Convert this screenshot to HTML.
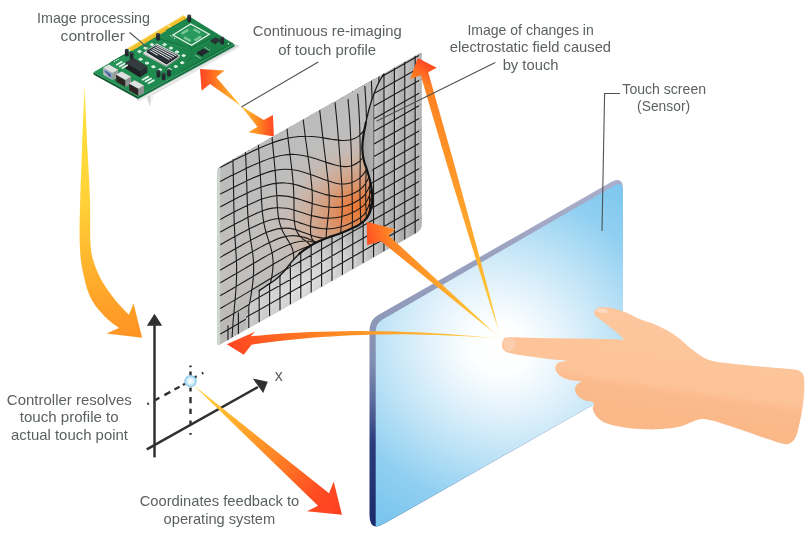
<!DOCTYPE html>
<html><head><meta charset="utf-8"><title>Touch screen diagram</title>
<style>html,body{margin:0;padding:0;background:#fff;overflow:hidden}svg{display:block}text{font-family:"Liberation Sans",sans-serif}</style>
</head><body>
<svg width="812" height="534" viewBox="0 0 812 534">
<defs>
<linearGradient id="gBig" gradientUnits="userSpaceOnUse" x1="85" y1="90" x2="120" y2="335"><stop offset="0" stop-color="#ffe23c"/><stop offset="0.45" stop-color="#ffd238"/><stop offset="0.75" stop-color="#ffae2c"/><stop offset="1" stop-color="#ff9424"/></linearGradient>
<linearGradient id="gPcb" gradientUnits="userSpaceOnUse" x1="110" y1="40" x2="215" y2="70"><stop offset="0" stop-color="#27955a"/><stop offset="0.5" stop-color="#1f8a4f"/><stop offset="1" stop-color="#1a7e47"/></linearGradient>
<linearGradient id="gD1" gradientUnits="userSpaceOnUse" x1="199" y1="0" x2="243" y2="0"><stop offset="0" stop-color="#ff4222"/><stop offset="0.2" stop-color="#ff5a22"/><stop offset="0.5" stop-color="#ff8c22"/><stop offset="0.8" stop-color="#ffb030"/><stop offset="1" stop-color="#ffd23c"/></linearGradient>
<linearGradient id="gD2" gradientUnits="userSpaceOnUse" x1="276" y1="0" x2="239" y2="0"><stop offset="0" stop-color="#ff4222"/><stop offset="0.2" stop-color="#ff5a22"/><stop offset="0.5" stop-color="#ff8c22"/><stop offset="0.8" stop-color="#ffb030"/><stop offset="1" stop-color="#ffd23c"/></linearGradient>
<clipPath id="cPan"><path d="M217,174.2Q217,168.2 222.2,165.2L419,53.6Q421.6,52.1 421.6,55.1L421.6,224.1Q421.6,230.1 416.4,233.1L220.5,344.2Q217,346.2 217,342.2Z"/></clipPath>
<linearGradient id="gPan" gradientUnits="userSpaceOnUse" x1="230" y1="150" x2="400" y2="260"><stop offset="0" stop-color="#bdbdbd"/><stop offset="0.5" stop-color="#b3b3b3"/><stop offset="1" stop-color="#a6a6a6"/></linearGradient>
<radialGradient id="gPanLt" gradientUnits="userSpaceOnUse" cx="305" cy="285" r="75" gradientTransform="translate(305 285) rotate(-29.5) scale(1.5 0.55) translate(-305 -285)"><stop offset="0" stop-color="#f2f2f2" stop-opacity="0.95"/><stop offset="0.5" stop-color="#e6e6e6" stop-opacity="0.6"/><stop offset="1" stop-color="#d0d0d0" stop-opacity="0"/></radialGradient>
<linearGradient id="gCol" x1="0" y1="0" x2="1" y2="0"><stop offset="0" stop-color="#dedede" stop-opacity="0.5"/><stop offset="1" stop-color="#a4a4a4" stop-opacity="0.15"/></linearGradient>
<pattern id="pCol" patternUnits="userSpaceOnUse" x="217.6" y="0" width="10.4" height="400"><rect width="10.4" height="400" fill="url(#gCol)"/></pattern>
<linearGradient id="gFold" gradientUnits="userSpaceOnUse" x1="358" y1="0" x2="374" y2="0"><stop offset="0" stop-color="#999999"/><stop offset="1" stop-color="#b2b2b2"/></linearGradient>
<clipPath id="cBlob"><path d="M384,73.4C383.1,75 380.1,79.7 378.5,83C376.9,86.3 375.8,89 374.3,93C372.8,97 371,102.1 369.6,107C368.2,111.9 366.9,117.7 365.9,122.4C364.9,127.2 364,131.1 363.4,135.5C362.8,139.9 362.2,144.4 362.3,148.7C362.4,152.9 363.2,157.6 364,161C364.8,164.4 365.9,166.5 366.8,169.4C367.7,172.3 368.8,175.3 369.6,178.7C370.4,182.1 371.3,186.2 371.8,190C372.3,193.8 372.6,197.8 372.4,201.2C372.2,204.6 371.4,207.8 370.5,210.6C369.6,213.4 368.7,215.7 366.8,218C364.9,220.3 362.1,222.7 359.3,224.6C356.5,226.5 353.3,227.7 349.9,229.3C346.5,230.9 342.4,232.6 338.7,234C335,235.4 331.2,236.3 327.5,237.7C323.8,239.1 319.6,240.7 316.2,242.4C312.8,244.1 309.7,246.1 306.9,248C304.1,249.9 301.9,251.3 299.4,253.6C296.9,255.8 294.7,258.4 292,261.5C289.3,264.6 285.8,269.4 283,272.5C280.2,275.6 277.8,277.8 275,280C272.2,282.2 268.7,284.2 266,286C263.3,287.8 261,288.8 258.7,291C256.4,293.2 253.9,295.5 252,299.3C250.1,303.1 248.2,308.7 247,313.9C245.8,319.1 244.9,327.7 244.5,330.5L217,346.2L217,168.2Z"/></clipPath>
<linearGradient id="gBlob" gradientUnits="userSpaceOnUse" x1="225" y1="170" x2="330" y2="330"><stop offset="0" stop-color="#bcbcbc"/><stop offset="0.5" stop-color="#c2c0be"/><stop offset="1" stop-color="#aeaeae"/></linearGradient>
<radialGradient id="gOr" gradientUnits="userSpaceOnUse" cx="358" cy="208" r="105" gradientTransform="translate(358 208) rotate(-35) scale(1 0.72) translate(-358 -208)"><stop offset="0" stop-color="#ea7732"/><stop offset="0.16" stop-color="#e58148" stop-opacity="0.95"/><stop offset="0.42" stop-color="#d99a76" stop-opacity="0.75"/><stop offset="0.72" stop-color="#d0b2a0" stop-opacity="0.4"/><stop offset="1" stop-color="#c4bbb5" stop-opacity="0"/></radialGradient>
<clipPath id="cScr"><path d="M369.5,330.1Q369.5,320.1 378.2,315.1L610.8,182.3Q623,175.4 623,189.4L623,386.7Q623,387.7 622.1,388.2L384.3,523.6Q369.5,532 369.5,515Z"/></clipPath>
<linearGradient id="gEdge" gradientUnits="userSpaceOnUse" x1="0" y1="180" x2="0" y2="530"><stop offset="0" stop-color="#aaaeca"/><stop offset="0.4" stop-color="#8e98b8"/><stop offset="0.52" stop-color="#828eb1"/><stop offset="0.63" stop-color="#5d6c9c"/><stop offset="0.75" stop-color="#2b3b7c"/><stop offset="1" stop-color="#1b2a6b"/></linearGradient>
<radialGradient id="gFace" gradientUnits="userSpaceOnUse" cx="499" cy="348" r="235" gradientTransform="translate(499 348) rotate(25) scale(1.08 0.94) translate(-499 -348)"><stop offset="0" stop-color="#ffffff"/><stop offset="0.12" stop-color="#fcfeff"/><stop offset="0.3" stop-color="#e0f1fb"/><stop offset="0.5" stop-color="#bbe2f6"/><stop offset="0.72" stop-color="#90cff1"/><stop offset="0.9" stop-color="#7ec7ee"/><stop offset="1" stop-color="#78c4ec"/></radialGradient>
<linearGradient id="gR1" gradientUnits="userSpaceOnUse" x1="437" y1="60" x2="331.6" y2="243.3"><stop offset="0" stop-color="#ff4222"/><stop offset="0.04" stop-color="#ff4c22"/><stop offset="0.13" stop-color="#ff8222"/><stop offset="0.45" stop-color="#ff9828"/><stop offset="0.7" stop-color="#ffae2e"/><stop offset="0.87" stop-color="#ffc63a"/><stop offset="1" stop-color="#ffe070"/></linearGradient>
<linearGradient id="gR2" gradientUnits="userSpaceOnUse" x1="362" y1="240" x2="462.5" y2="209.6"><stop offset="0" stop-color="#ff4222"/><stop offset="0.07" stop-color="#ff5522"/><stop offset="0.26" stop-color="#ff8424"/><stop offset="0.55" stop-color="#ffa02a"/><stop offset="0.82" stop-color="#ffc238"/><stop offset="1" stop-color="#ffe070"/></linearGradient>
<linearGradient id="gR3" gradientUnits="userSpaceOnUse" x1="227" y1="344" x2="503" y2="339"><stop offset="0" stop-color="#ff4222"/><stop offset="0.12" stop-color="#ff5a22"/><stop offset="0.35" stop-color="#ff8422"/><stop offset="0.6" stop-color="#ffa42a"/><stop offset="0.82" stop-color="#ffc238"/><stop offset="1" stop-color="#ffe070"/></linearGradient>
<radialGradient id="gGlow" cx="503" cy="342" r="26" gradientUnits="userSpaceOnUse"><stop offset="0" stop-color="#fff" stop-opacity="1"/><stop offset="0.4" stop-color="#fff" stop-opacity="0.8"/><stop offset="1" stop-color="#fff" stop-opacity="0"/></radialGradient>
<linearGradient id="gSkin" gradientUnits="userSpaceOnUse" x1="700" y1="330" x2="682.5" y2="448.7"><stop offset="0" stop-color="#fdc69c"/><stop offset="0.49" stop-color="#fdc398"/><stop offset="0.57" stop-color="#fbba8b"/><stop offset="1" stop-color="#fab787"/></linearGradient>
<linearGradient id="gF" gradientUnits="userSpaceOnUse" x1="342" y1="515" x2="194" y2="385"><stop offset="0" stop-color="#ff3f22"/><stop offset="0.18" stop-color="#ff4d22"/><stop offset="0.45" stop-color="#ff8424"/><stop offset="0.75" stop-color="#ffb42e"/><stop offset="1" stop-color="#ffd23c"/></linearGradient>
<radialGradient id="gDot" cx="0.5" cy="0.5" r="0.5"><stop offset="0" stop-color="#fff"/><stop offset="0.45" stop-color="#e4f4fc"/><stop offset="0.8" stop-color="#a5d8f2"/><stop offset="1" stop-color="#8fcdee"/></radialGradient>
<filter id="fT" x="0" y="0" width="812" height="534" filterUnits="userSpaceOnUse"><feOffset dx="0" dy="0"/></filter>
</defs>
<rect width="812" height="534" fill="#fff"/>
<!-- big curved arrow -->
<path d="M84.6,87.6C84.2,98 82.7,131.3 82,150C81.3,168.7 80.6,184.7 80.2,200C79.8,215.3 79.3,230.3 79.7,242C80.1,253.7 80.6,260.6 82.5,270C84.4,279.4 87,290.4 91,298.4C95,306.4 101.7,313.1 106.4,318C111.1,322.9 116.9,326.2 119,327.9L106.4,333.5L142.1,337.7L133.6,303.4L128.9,314.7C126.8,312.4 120.7,306.7 116.2,301.2C111.8,295.7 106,288.1 102.2,281.5C98.5,274.9 95.7,268.4 93.7,261.8C91.7,255.2 91,252.5 90.4,242.2C89.8,231.9 90.5,215.4 90,200C89.5,184.6 88.4,168.7 87.5,150C86.6,131.3 85.1,98 84.6,87.6Z" fill="url(#gBig)"/>
<!-- controller board -->
<path d="M136.4,98.6 138.4,101.4 147,97 149.8,106.4 153.4,94.4 238.6,47.6 238.6,45.2 234.4,44.3Z" fill="#d2d5d3"/>
<path d="M149.9,106.4 153.4,94.4 150.6,95.6Z" fill="#f3f3f3"/>
<path d="M138.4,101.4 238.6,47.6 238.6,46 138.4,99.4Z" fill="#eceeed"/>
<path d="M93.5,72.2 137.9,96.6 137.9,99 93.5,74.6Z" fill="#0e5a31"/>
<path d="M137.9,96.6 234.4,44.3 234.4,46.5 137.9,99Z" fill="#127040"/>
<path d="M93.5,72.2 189.2,16.2 234.4,44.3 137.9,96.6Z" fill="url(#gPcb)"/>
<path d="M127.5,48.4 183.4,15.5 187.8,18.2 131.8,50.9Z" fill="#f3be2b"/>
<path d="M127.5,48.4 183.4,15.5 184.8,16.3 128.8,49.2Z" fill="#f8cf4a"/>
<path d="M166.5,25.2 167.9,24.4 172.5,27.2 171.1,28Z" fill="#fae9a8"/>
<path d="M139.2,41.3 140.3,40.6 144.9,43.3 143.8,43.9Z" fill="#f9dc7a"/>
<path d="M159.8,39.2 183.4,46.5" stroke="#13703d" stroke-width="1.3" fill="none" stroke-linejoin="round" stroke-linecap="round"/>
<path d="M160,40.2 183.6,47.5" stroke="#2fa566" stroke-width="0.55" fill="none" stroke-linejoin="round" opacity="0.8"/>
<path d="M189.3,45.8 191.7,48.8 191.7,58.9 187.4,61.5" stroke="#13703d" stroke-width="1.3" fill="none" stroke-linejoin="round" stroke-linecap="round"/>
<path d="M189.5,46.8 191.9,49.8 191.9,59.9 187.6,62.5" stroke="#2fa566" stroke-width="0.55" fill="none" stroke-linejoin="round" opacity="0.8"/>
<path d="M191.7,48.8 210.9,38.6 223.4,44.9" stroke="#13703d" stroke-width="1.3" fill="none" stroke-linejoin="round" stroke-linecap="round"/>
<path d="M191.9,49.8 211.1,39.6 223.6,45.9" stroke="#2fa566" stroke-width="0.55" fill="none" stroke-linejoin="round" opacity="0.8"/>
<path d="M182.8,70.7 223.4,48.4 231.9,43.2" stroke="#13703d" stroke-width="1.3" fill="none" stroke-linejoin="round" stroke-linecap="round"/>
<path d="M183,71.7 223.6,49.4 232.1,44.2" stroke="#2fa566" stroke-width="0.55" fill="none" stroke-linejoin="round" opacity="0.8"/>
<path d="M166.5,30.4 187.6,18.6" stroke="#13703d" stroke-width="1.1" fill="none" stroke-linejoin="round" stroke-linecap="round"/>
<path d="M166.7,31.4 187.8,19.6" stroke="#2fa566" stroke-width="0.55" fill="none" stroke-linejoin="round" opacity="0.8"/>
<path d="M111,62.4 127,53.4" stroke="#13703d" stroke-width="1.0" fill="none" stroke-linejoin="round" stroke-linecap="round"/>
<path d="M111.2,63.4 127.2,54.4" stroke="#2fa566" stroke-width="0.55" fill="none" stroke-linejoin="round" opacity="0.8"/>
<path d="M172.9,35 190.7,23.9 209.3,34.2 191.5,45.3Z" fill="#238f54" stroke="#e9f6ee" stroke-width="1.25"/>
<path d="M177.6,35 190.8,26.8 204.6,34.3 191.4,42.5Z" fill="#2a9a5c"/>
<path d="M181.6,33.8L188.2,29.8M193.6,29.2L200.2,32.8M184.0,37.4L190.6,41.0M194.6,40.4L201.0,36.4" stroke="#7cc79c" stroke-width="2.4" fill="none"/>
<circle cx="170.4" cy="35.6" r="0.6" fill="#e6f4ea"/><circle cx="172" cy="36.8" r="0.6" fill="#e6f4ea"/><circle cx="174.6" cy="38.4" r="0.6" fill="#e6f4ea"/>
<path d="M142.8,54.3 156.8,45 180.2,57 166.4,67Z" fill="#a7aba9"/>
<path d="M142.8,52.9 156.8,43.6 180.2,55.6 166.4,65.6Z" fill="#dcdedd"/>
<path d="M146.2,52.1 156.7,45.7 178.4,56.6 166.5,64.5Z" fill="#14171a"/>
<path d="M146.2,51.1 156.7,44.7 178.4,55.6 166.5,63.5Z" fill="#2a3038"/>
<path d="M156.4,45.6L176.5,55.9M154.8,46.8L174.2,57.1M153.1,48.1L171.9,58.4M151.5,49.3L169.6,59.6M149.8,50.6L157.7,55.2" stroke="#f1f3f2" stroke-width="1.0" fill="none"/>
<path d="M137.5,51.5 139.5,50.3 141.5,51.5 139.5,52.7Z" fill="#e3f5ea" stroke="#e3f5ea" stroke-width="0.9" stroke-linejoin="round"/>
<path d="M143.5,48.1 145.5,46.9 147.5,48.1 145.5,49.3Z" fill="#e3f5ea" stroke="#e3f5ea" stroke-width="0.9" stroke-linejoin="round"/>
<path d="M149.9,44.6 151.9,43.4 153.9,44.6 151.9,45.8Z" fill="#e3f5ea" stroke="#e3f5ea" stroke-width="0.9" stroke-linejoin="round"/>
<path d="M162.6,44.6 164.6,43.4 166.6,44.6 164.6,45.8Z" fill="#e3f5ea" stroke="#e3f5ea" stroke-width="0.9" stroke-linejoin="round"/>
<path d="M169,48.1 171,46.9 173,48.1 171,49.3Z" fill="#e3f5ea" stroke="#e3f5ea" stroke-width="0.9" stroke-linejoin="round"/>
<path d="M175,51.9 177,50.7 179,51.9 177,53.1Z" fill="#e3f5ea" stroke="#e3f5ea" stroke-width="0.9" stroke-linejoin="round"/>
<path d="M181.7,55.6 183.7,54.4 185.7,55.6 183.7,56.8Z" fill="#e3f5ea" stroke="#e3f5ea" stroke-width="0.9" stroke-linejoin="round"/>
<path d="M138.6,59.3 140.6,58.1 142.6,59.3 140.6,60.5Z" fill="#e3f5ea" stroke="#e3f5ea" stroke-width="0.9" stroke-linejoin="round"/>
<path d="M145,63.1 147,61.9 149,63.1 147,64.3Z" fill="#e3f5ea" stroke="#e3f5ea" stroke-width="0.9" stroke-linejoin="round"/>
<path d="M151.4,66.8 153.4,65.6 155.4,66.8 153.4,68Z" fill="#e3f5ea" stroke="#e3f5ea" stroke-width="0.9" stroke-linejoin="round"/>
<path d="M158.1,69.8 160.1,68.6 162.1,69.8 160.1,71Z" fill="#e3f5ea" stroke="#e3f5ea" stroke-width="0.9" stroke-linejoin="round"/>
<path d="M180.2,62.7 182.2,61.5 184.2,62.7 182.2,63.9Z" fill="#e3f5ea" stroke="#e3f5ea" stroke-width="0.9" stroke-linejoin="round"/>
<path d="M173.8,66.5 175.8,65.3 177.8,66.5 175.8,67.7Z" fill="#e3f5ea" stroke="#e3f5ea" stroke-width="0.9" stroke-linejoin="round"/>
<path d="M167.5,69.5 169.5,68.3 171.5,69.5 169.5,70.7Z" fill="#e3f5ea" stroke="#e3f5ea" stroke-width="0.9" stroke-linejoin="round"/>
<path d="M197,52.2 203.4,48.4 209.2,51.6 202.8,55.6Z" fill="#23292d"/>
<path d="M197,52.2 202.8,55.6 202.8,56.8 197,53.4Z" fill="#14181b"/>
<path d="M195.4,55.2l1.2,0.7M197.4,56.4l1.2,0.7M199.4,57.6l1.2,0.7M204.6,47.2l1.2,0.7M206.6,48.4l1.2,0.7M208.6,49.6l1.2,0.7" stroke="#dff0e6" stroke-width="0.9"/>
<path d="M210.6,40.2 215.6,37.2 221,40.2 216,43.4Z" fill="#2b3236"/>
<path d="M210.6,40.2 216,43.4 216,44.4 210.6,41.2Z" fill="#181c1f"/>
<path d="M125.4,62.4 133,57.8 147.4,66.2 140,71Z" fill="#343a3f"/>
<path d="M125.4,62.4 140,71 140,77.4 125.4,68.6Z" fill="#1d2125"/>
<path d="M140,71 147.4,66.2 147.4,72.4 140,77.4Z" fill="#262b2f"/>
<path d="M119.6,66.4L124.6,63.4M122.4,68L127.2,65.2M116.8,64.8L121.8,61.8" stroke="#e9f5ee" stroke-width="1.7" stroke-linecap="round"/>
<path d="M142.6,79.8L148.2,76.6M145.6,81.6L151,78.4M148.6,83.2L153.8,80.2" stroke="#e9f5ee" stroke-width="1.8" stroke-linecap="round"/>
<circle cx="114.6" cy="61.4" r="0.6" fill="#e9f5ee"/><circle cx="116.4" cy="60.4" r="0.6" fill="#e9f5ee"/><circle cx="118.2" cy="59.4" r="0.6" fill="#e9f5ee"/>
<path d="M187.3,15.6V21.2A1.9,1.045 0 0 0 191.1,21.2V15.6Z" fill="#23292e"/><ellipse cx="189.2" cy="15.6" rx="1.9" ry="1.045" fill="#3a4349"/>
<path d="M156.1,34V39.6A1.9,1.045 0 0 0 159.9,39.6V34Z" fill="#23292e"/><ellipse cx="158" cy="34" rx="1.9" ry="1.045" fill="#3a4349"/>
<path d="M124.9,49.8V55.4A1.9,1.045 0 0 0 128.7,55.4V49.8Z" fill="#23292e"/><ellipse cx="126.8" cy="49.8" rx="1.9" ry="1.045" fill="#3a4349"/>
<path d="M129.7,53V58.6A1.9,1.045 0 0 0 133.5,58.6V53Z" fill="#23292e"/><ellipse cx="131.6" cy="53" rx="1.9" ry="1.045" fill="#3a4349"/>
<path d="M220.3,37.8V43.4A1.9,1.045 0 0 0 224.1,43.4V37.8Z" fill="#23292e"/><ellipse cx="222.2" cy="37.8" rx="1.9" ry="1.045" fill="#3a4349"/>
<path d="M156.5,70.8V76.4A1.9,1.045 0 0 0 160.3,76.4V70.8Z" fill="#23292e"/><ellipse cx="158.4" cy="70.8" rx="1.9" ry="1.045" fill="#3a4349"/>
<path d="M161.7,73.6V79.2A1.9,1.045 0 0 0 165.5,79.2V73.6Z" fill="#23292e"/><ellipse cx="163.6" cy="73.6" rx="1.9" ry="1.045" fill="#3a4349"/>
<path d="M167.1,70V75.6A1.9,1.045 0 0 0 170.9,75.6V70Z" fill="#23292e"/><ellipse cx="169" cy="70" rx="1.9" ry="1.045" fill="#3a4349"/>
<circle cx="228.4" cy="43.8" r="0.8" fill="#e9f5ee"/>
<path d="M103.2,67.6 112.6,72.9 112.6,80.1 103.2,74.8Z" fill="#b9bcc0"/>
<path d="M112.6,72.9 118.2,69.7 118.2,76.9 112.6,80.1Z" fill="#9b9ea0"/>
<path d="M103.2,67.6 108.8,64.4 118.2,69.7 112.6,72.9Z" fill="#dedfde"/>
<path d="M104.4,69.5 111.6,73.6 111.6,78.8 104.4,72.2Z" fill="#6f8cc4"/>
<path d="M105.6,71 110.4,75.1 110.4,77.7 105.6,71.4Z" fill="#3d4c6e"/>
<path d="M116,74.6 125.4,79.9 125.4,87.1 116,81.8Z" fill="#3a2f2d"/>
<path d="M125.4,79.9 131,76.7 131,83.9 125.4,87.1Z" fill="#8f9291"/>
<path d="M116,74.6 121.6,71.4 131,76.7 125.4,79.9Z" fill="#dedfde"/>
<path d="M117,76.4 124.8,80.8 124.8,86.5 117,80.2Z" fill="#2c2322"/>
<path d="M129,83.4 138.4,88.7 138.4,95.9 129,90.6Z" fill="#3a2f2d"/>
<path d="M138.4,88.7 144,85.5 144,92.7 138.4,95.9Z" fill="#8f9291"/>
<path d="M129,83.4 134.6,80.2 144,85.5 138.4,88.7Z" fill="#dedfde"/>
<path d="M130,85.2 137.8,89.6 137.8,95.3 130,89Z" fill="#2c2322"/>
<!-- double arrow -->
<path d="M241,106L216.2,77.2L224.6,70.5L200,69L201.6,90.8L210,84.1Z" fill="url(#gD1)"/>
<path d="M241,106L263.7,120.1L272.9,114.9L273.9,136.5L248.3,132.2L257.5,127Z" fill="url(#gD2)"/>
<!-- sensor image panel -->
<path d="M217,174.2Q217,168.2 222.2,165.2L419,53.6Q421.6,52.1 421.6,55.1L421.6,224.1Q421.6,230.1 416.4,233.1L220.5,344.2Q217,346.2 217,342.2Z" fill="url(#gPan)"/>
<g clip-path="url(#cPan)">
<rect x="210" y="40" width="220" height="320" fill="url(#gPanLt)"/>
<rect x="210" y="40" width="220" height="320" fill="url(#pCol)"/>
<path d="M415.2,55.7V233.7M404.8,61.6V239.6M394.4,67.5V245.5M384,73.4V251.4M373.6,79.3V257.3M363.2,85.2V263.2M352.8,91.1V269.1M342.4,97V275M332,102.9V280.9M321.6,108.8V286.8M311.2,114.7V292.7M300.8,120.6V298.6M290.4,126.5V304.5M280,132.4V310.4M269.6,138.3V316.3M259.2,144.3V322.3M248.8,150.2V328.2M238.4,156.1V334.1M228,162V340M217,170L421.6,53.9M217,182.6L421.6,66.5M217,195.2L421.6,79.1M217,207.8L421.6,91.7M217,220.4L421.6,104.3M217,233L421.6,116.9M217,245.6L421.6,129.5M217,258.2L421.6,142.1M217,270.8L421.6,154.7M217,283.4L421.6,167.3M217,296L421.6,179.9M217,308.6L421.6,192.5M217,321.2L421.6,205.1M217,333.8L421.6,217.7" stroke="#1c1c1c" stroke-width="1.15" fill="none"/>
<path d="M355,70H373.6V168L368,176H355Z" fill="url(#gFold)"/>
<g clip-path="url(#cBlob)">
<path d="M384,73.4C383.1,75 380.1,79.7 378.5,83C376.9,86.3 375.8,89 374.3,93C372.8,97 371,102.1 369.6,107C368.2,111.9 366.9,117.7 365.9,122.4C364.9,127.2 364,131.1 363.4,135.5C362.8,139.9 362.2,144.4 362.3,148.7C362.4,152.9 363.2,157.6 364,161C364.8,164.4 365.9,166.5 366.8,169.4C367.7,172.3 368.8,175.3 369.6,178.7C370.4,182.1 371.3,186.2 371.8,190C372.3,193.8 372.6,197.8 372.4,201.2C372.2,204.6 371.4,207.8 370.5,210.6C369.6,213.4 368.7,215.7 366.8,218C364.9,220.3 362.1,222.7 359.3,224.6C356.5,226.5 353.3,227.7 349.9,229.3C346.5,230.9 342.4,232.6 338.7,234C335,235.4 331.2,236.3 327.5,237.7C323.8,239.1 319.6,240.7 316.2,242.4C312.8,244.1 309.7,246.1 306.9,248C304.1,249.9 301.9,251.3 299.4,253.6C296.9,255.8 294.7,258.4 292,261.5C289.3,264.6 285.8,269.4 283,272.5C280.2,275.6 277.8,277.8 275,280C272.2,282.2 268.7,284.2 266,286C263.3,287.8 261,288.8 258.7,291C256.4,293.2 253.9,295.5 252,299.3C250.1,303.1 248.2,308.7 247,313.9C245.8,319.1 244.9,327.7 244.5,330.5L217,346.2L217,168.2Z" fill="url(#gBlob)"/>
<path d="M384,73.4C383.1,75 380.1,79.7 378.5,83C376.9,86.3 375.8,89 374.3,93C372.8,97 371,102.1 369.6,107C368.2,111.9 366.9,117.7 365.9,122.4C364.9,127.2 364,131.1 363.4,135.5C362.8,139.9 362.2,144.4 362.3,148.7C362.4,152.9 363.2,157.6 364,161C364.8,164.4 365.9,166.5 366.8,169.4C367.7,172.3 368.8,175.3 369.6,178.7C370.4,182.1 371.3,186.2 371.8,190C372.3,193.8 372.6,197.8 372.4,201.2C372.2,204.6 371.4,207.8 370.5,210.6C369.6,213.4 368.7,215.7 366.8,218C364.9,220.3 362.1,222.7 359.3,224.6C356.5,226.5 353.3,227.7 349.9,229.3C346.5,230.9 342.4,232.6 338.7,234C335,235.4 331.2,236.3 327.5,237.7C323.8,239.1 319.6,240.7 316.2,242.4C312.8,244.1 309.7,246.1 306.9,248C304.1,249.9 301.9,251.3 299.4,253.6C296.9,255.8 294.7,258.4 292,261.5C289.3,264.6 285.8,269.4 283,272.5C280.2,275.6 277.8,277.8 275,280C272.2,282.2 268.7,284.2 266,286C263.3,287.8 261,288.8 258.7,291C256.4,293.2 253.9,295.5 252,299.3C250.1,303.1 248.2,308.7 247,313.9C245.8,319.1 244.9,327.7 244.5,330.5L217,346.2L217,168.2Z" fill="url(#gOr)"/>
<path d="M232.4,140.6C232.4,141.8 232.5,145.5 232.6,147.9C232.6,150.3 232.7,152.8 232.8,155.2C232.8,157.6 232.9,160 233,162.4C233,164.8 233.1,167.2 233.2,169.6C233.2,172 233.3,174.4 233.3,176.8C233.4,179.2 233.4,181.6 233.5,184C233.5,186.3 233.6,188.7 233.6,191.1C233.7,193.4 233.7,195.8 233.7,198.2C233.8,200.5 233.8,202.9 233.8,205.2C233.9,207.6 233.9,209.9 234,212.2C234,214.6 234.1,216.9 234.1,219.2C234.2,221.5 234.3,223.9 234.4,226.2C234.5,228.5 234.6,230.7 234.7,233C234.8,235.3 235,237.6 235.1,239.9C235.3,242.2 235.4,244.4 235.6,246.7C235.7,249 235.9,251.3 236,253.6C236.2,255.9 236.3,258.2 236.4,260.5C236.5,262.9 236.6,265.2 236.6,267.6C236.6,270 236.6,272.4 236.6,274.8C236.5,277.2 236.5,279.7 236.3,282.2C236.2,284.7 236.1,287.2 235.9,289.7C235.7,292.3 235.5,294.8 235.3,297.4C235.1,299.9 234.8,302.5 234.6,305.1C234.4,307.7 234.1,310.2 233.9,312.8C233.6,315.4 233.4,318 233.2,320.5C233,323.1 232.8,325.6 232.7,328.1C232.5,330.7 232.3,333.2 232.2,335.7C232.1,338.2 232,340.7 231.9,343.2C231.8,345.7 231.7,348.1 231.6,350.6C231.6,353.1 231.5,356.7 231.5,358M244.7,134.2C244.8,135.4 244.9,139.1 245,141.6C245.1,144 245.2,146.4 245.3,148.9C245.4,151.3 245.5,153.7 245.7,156.1C245.8,158.5 245.9,161 246,163.4C246.1,165.7 246.2,168.1 246.3,170.5C246.4,172.9 246.5,175.3 246.6,177.6C246.6,180 246.7,182.3 246.8,184.7C246.9,187 246.9,189.3 247,191.7C247.1,194 247.1,196.3 247.2,198.6C247.3,200.9 247.3,203.2 247.4,205.5C247.5,207.8 247.6,210 247.7,212.3C247.8,214.6 248,216.8 248.1,219C248.3,221.2 248.5,223.4 248.7,225.6C249,227.8 249.2,230 249.5,232.1C249.8,234.3 250.1,236.4 250.4,238.6C250.7,240.7 251.1,242.8 251.4,244.9C251.8,247.1 252.1,249.2 252.4,251.4C252.7,253.6 253,255.7 253.2,258C253.4,260.2 253.5,262.5 253.6,264.8C253.6,267.2 253.6,269.6 253.6,272C253.5,274.5 253.3,277 253.1,279.5C252.8,282.1 252.5,284.7 252.2,287.4C251.8,290 251.4,292.7 251,295.4C250.5,298.1 250,300.9 249.6,303.6C249.1,306.3 248.6,309.1 248.2,311.8C247.7,314.5 247.3,317.2 246.9,319.9C246.5,322.6 246.1,325.2 245.8,327.8C245.5,330.5 245.2,333.1 244.9,335.7C244.7,338.3 244.5,340.8 244.3,343.4C244.1,345.9 243.9,349.6 243.9,350.9M257.4,127.9C257.4,129.1 257.6,132.9 257.8,135.3C257.9,137.8 258.1,140.3 258.2,142.7C258.4,145.2 258.6,147.6 258.7,150.1C258.9,152.5 259.1,154.9 259.2,157.3C259.4,159.8 259.5,162.2 259.7,164.5C259.8,166.9 260,169.3 260.1,171.7C260.3,174 260.4,176.4 260.5,178.7C260.7,181 260.8,183.4 260.9,185.7C261,188 261.1,190.3 261.2,192.5C261.3,194.8 261.4,197.1 261.5,199.4C261.6,201.6 261.8,203.8 261.9,206C262.1,208.3 262.2,210.4 262.4,212.6C262.7,214.8 262.9,216.9 263.2,219C263.5,221.1 263.9,223.1 264.3,225.1C264.7,227.1 265.2,229.1 265.7,231C266.2,233 266.8,234.8 267.4,236.7C268,238.6 268.6,240.5 269.2,242.4C269.8,244.2 270.4,246.1 270.9,248.1C271.4,250 271.9,252 272.3,254C272.6,256.1 272.9,258.2 273,260.5C273.1,262.7 273.1,265.1 272.9,267.5C272.8,270 272.5,272.6 272,275.3C271.6,278 271,280.8 270.4,283.6C269.8,286.4 269,289.4 268.3,292.3C267.5,295.2 266.7,298.2 265.9,301.2C265.1,304.1 264.2,307.1 263.5,310C262.7,313 261.9,315.9 261.3,318.8C260.6,321.6 260,324.5 259.4,327.2C258.9,330 258.4,332.8 258,335.5C257.6,338.1 257.1,342.1 256.9,343.4M270.8,121.7C270.9,123 271.2,126.8 271.4,129.3C271.6,131.8 271.8,134.3 272,136.8C272.2,139.4 272.4,141.9 272.7,144.4C272.9,146.9 273.1,149.4 273.4,151.9C273.6,154.4 273.9,156.9 274.1,159.4C274.3,161.9 274.6,164.4 274.8,166.8C275,169.3 275.2,171.8 275.4,174.2C275.6,176.7 275.8,179.1 275.9,181.5C276.1,183.9 276.3,186.3 276.4,188.7C276.5,191.1 276.6,193.5 276.8,195.8C276.9,198.1 277,200.4 277.1,202.6C277.2,204.9 277.4,207.1 277.6,209.3C277.7,211.4 277.9,213.5 278.2,215.6C278.5,217.6 278.9,219.5 279.3,221.4C279.7,223.3 280.2,225.1 280.9,226.8C281.5,228.5 282.2,230.2 282.9,231.7C283.7,233.3 284.6,234.8 285.5,236.3C286.3,237.7 287.3,239.1 288.2,240.6C289,242 289.9,243.4 290.7,245C291.4,246.5 292.2,248.1 292.7,249.8C293.2,251.6 293.5,253.4 293.7,255.5C293.8,257.6 293.8,259.8 293.5,262.2C293.3,264.7 292.8,267.3 292.1,270.1C291.5,272.9 290.6,275.9 289.7,278.9C288.7,282 287.6,285.2 286.4,288.5C285.3,291.7 284,295 282.8,298.2C281.6,301.5 280.4,304.8 279.3,308C278.1,311.2 277,314.3 276,317.4C275.1,320.5 274.1,323.5 273.3,326.5C272.5,329.5 271.6,333.7 271.2,335.2M285.7,115.7C285.8,117 286.2,120.9 286.4,123.6C286.7,126.3 287,129 287.3,131.7C287.6,134.4 287.9,137.2 288.2,139.9C288.5,142.7 288.9,145.6 289.2,148.4C289.6,151.2 289.9,154.1 290.3,157C290.6,159.8 291,162.7 291.4,165.6C291.7,168.4 292,171.3 292.3,174.1C292.6,176.8 292.9,179.6 293.1,182.3C293.3,185 293.5,187.6 293.6,190.2C293.8,192.8 293.8,195.3 293.9,197.8C294,200.2 294,202.6 294,204.9C294,207.2 294,209.5 294,211.7C294,213.9 294,216 294.1,218C294.2,220 294.4,221.9 294.7,223.7C294.9,225.4 295.3,227.1 295.7,228.6C296.2,230.1 296.8,231.5 297.5,232.8C298.2,234.1 299.1,235.2 300,236.2C300.9,237.2 302,238.1 303,239C304.1,239.8 305.2,240.6 306.3,241.4C307.3,242.3 308.4,243.1 309.3,244.1C310.2,245 311.1,246.1 311.7,247.4C312.3,248.7 312.8,250.1 312.9,251.9C313.1,253.6 313,255.6 312.7,257.9C312.4,260.2 311.8,262.8 311,265.7C310.2,268.5 309.1,271.6 307.9,274.9C306.7,278.1 305.2,281.6 303.8,285.1C302.3,288.5 300.7,292.2 299.2,295.7C297.7,299.2 296.1,302.8 294.7,306.2C293.2,309.7 291.8,313.1 290.5,316.4C289.3,319.7 287.7,324.4 287.1,326M302.1,110.1C302.3,111.6 302.8,116 303.1,119C303.5,122.1 303.9,125.2 304.3,128.5C304.7,131.7 305.1,135.1 305.5,138.5C306,142 306.5,145.5 307,149C307.4,152.6 308,156.2 308.4,159.6C308.9,163.1 309.4,166.6 309.9,169.9C310.3,173.2 310.8,176.4 311.1,179.5C311.4,182.5 311.7,185.4 311.9,188.2C312.1,191 312.3,193.6 312.3,196.2C312.4,198.7 312.3,201.2 312.2,203.6C312.1,206 312,208.3 311.8,210.5C311.7,212.8 311.4,215 311.3,217.2C311.1,219.3 310.9,221.4 310.7,223.4C310.6,225.4 310.5,227.3 310.5,229C310.5,230.8 310.5,232.5 310.7,234C310.9,235.4 311.2,236.8 311.7,237.9C312.1,239.1 312.7,240.1 313.4,240.9C314,241.7 314.9,242.3 315.8,242.8C316.7,243.3 317.8,243.6 318.8,243.9C319.9,244.2 321,244.4 322.1,244.7C323.1,245 324.2,245.2 325.1,245.7C326,246.2 326.8,246.7 327.4,247.6C328,248.5 328.4,249.6 328.6,251C328.7,252.5 328.7,254.2 328.3,256.4C328,258.5 327.3,261 326.5,263.8C325.6,266.6 324.5,269.7 323.2,273C321.9,276.3 320.3,279.9 318.7,283.5C317.2,287.1 315.4,290.9 313.7,294.6C312,298.3 310.3,302 308.7,305.6C307.1,309.2 304.9,314.4 304.1,316.1M319.2,105.7C319.4,107.5 320,112.6 320.4,116.3C320.8,120.1 321.3,124 321.8,128.1C322.2,132.2 322.7,136.5 323.2,140.7C323.7,144.9 324.3,149.3 324.8,153.5C325.3,157.6 325.8,161.8 326.3,165.6C326.7,169.5 327.2,173.1 327.6,176.5C328,179.8 328.3,182.9 328.6,185.8C328.8,188.7 329,191.2 329.1,193.7C329.2,196.2 329.2,198.5 329.2,200.8C329.2,203 329.1,205.2 329,207.3C328.8,209.4 328.7,211.5 328.5,213.6C328.3,215.7 328,217.7 327.8,219.8C327.6,221.9 327.3,223.9 327.1,225.9C326.8,227.9 326.6,229.9 326.5,231.7C326.3,233.6 326.2,235.4 326.1,237.1C326.1,238.7 326.1,240.3 326.2,241.6C326.3,243 326.5,244.2 326.9,245.1C327.2,246.1 327.7,246.8 328.2,247.4C328.8,247.9 329.5,248.3 330.2,248.5C330.9,248.7 331.8,248.6 332.7,248.6C333.5,248.6 334.5,248.4 335.3,248.4C336.2,248.4 337,248.3 337.8,248.5C338.5,248.7 339.1,249 339.6,249.7C340,250.4 340.3,251.3 340.4,252.6C340.4,254 340.3,255.6 339.9,257.7C339.5,259.8 338.9,262.2 338,265C337.2,267.7 336.1,270.9 334.8,274.2C333.6,277.4 332.1,281 330.6,284.6C329.1,288.2 327.4,292 325.7,295.6C324.1,299.3 321.7,304.7 320.9,306.5M335,102.4C335.2,104.5 335.9,110.6 336.3,115C336.7,119.4 337.2,124.2 337.6,129C338,133.7 338.4,138.7 338.8,143.4C339.2,148.2 339.5,153 339.9,157.3C340.2,161.7 340.5,165.9 340.8,169.7C341,173.4 341.3,176.8 341.5,179.9C341.7,183 341.8,185.7 342,188.3C342.1,190.8 342.2,193 342.2,195.2C342.3,197.3 342.3,199.2 342.3,201.2C342.3,203.1 342.3,204.9 342.3,206.8C342.2,208.6 342.2,210.5 342.1,212.3C342,214.2 341.9,216.1 341.8,218C341.7,219.9 341.5,221.8 341.4,223.8C341.2,225.8 341.1,227.8 340.9,229.8C340.8,231.7 340.7,233.7 340.5,235.6C340.4,237.4 340.3,239.3 340.3,240.9C340.2,242.6 340.2,244.1 340.3,245.4C340.3,246.7 340.5,247.8 340.7,248.6C340.9,249.5 341.1,250.1 341.5,250.5C341.8,250.9 342.3,251.1 342.8,251.1C343.2,251.2 343.8,251 344.4,250.9C344.9,250.8 345.5,250.5 346.1,250.4C346.6,250.4 347.2,250.3 347.6,250.6C348,250.9 348.4,251.3 348.6,252.1C348.8,252.9 349,254 348.9,255.5C348.8,257 348.6,258.8 348.2,261C347.7,263.2 347.1,265.8 346.3,268.6C345.5,271.4 344.5,274.5 343.4,277.7C342.3,280.9 341,284.4 339.7,287.9C338.3,291.3 336.2,296.6 335.5,298.4M348,98.9C348.2,101.2 348.8,108 349.2,112.9C349.6,117.7 349.9,122.9 350.2,127.9C350.5,133 350.7,138.2 350.9,143.1C351.2,147.9 351.3,152.7 351.4,157C351.6,161.3 351.7,165.4 351.7,169C351.8,172.6 351.9,175.8 351.9,178.7C352,181.6 352,184.1 352,186.4C352.1,188.8 352.1,190.8 352.1,192.8C352.1,194.8 352.2,196.6 352.2,198.4C352.2,200.2 352.2,201.8 352.3,203.5C352.3,205.2 352.3,206.9 352.3,208.6C352.4,210.3 352.4,212 352.4,213.8C352.4,215.6 352.4,217.5 352.4,219.4C352.4,221.3 352.4,223.3 352.3,225.2C352.3,227.2 352.3,229.2 352.2,231.2C352.2,233.1 352.1,235.1 352.1,236.8C352,238.6 352,240.3 351.9,241.8C351.9,243.3 351.8,244.6 351.8,245.7C351.8,246.7 351.9,247.6 351.9,248.2C352,248.8 352.1,249.2 352.2,249.4C352.3,249.6 352.5,249.6 352.7,249.6C352.9,249.6 353.1,249.4 353.4,249.4C353.6,249.4 353.9,249.4 354.1,249.7C354.4,249.9 354.6,250.3 354.8,251C354.9,251.7 355.1,252.6 355.1,253.9C355.1,255.2 355.1,256.8 354.9,258.7C354.7,260.6 354.4,262.9 354,265.3C353.6,267.8 353,270.5 352.3,273.4C351.6,276.3 350.8,279.4 349.9,282.5C349,285.6 347.4,290.5 346.9,292.1M357.7,93.7C357.9,96.1 358.5,103.1 358.8,108C359.1,112.9 359.3,118.1 359.6,123.2C359.8,128.2 359.9,133.4 360,138.2C360.1,143 360.2,147.8 360.2,152.1C360.2,156.3 360.2,160.3 360.2,163.9C360.2,167.5 360.1,170.7 360.1,173.7C360.1,176.6 360.1,179.2 360,181.6C360,184 360,186.1 360,188.2C360,190.2 360,192 360,193.9C360,195.7 360.1,197.4 360.1,199.1C360.1,200.8 360.2,202.4 360.2,204.1C360.3,205.8 360.3,207.5 360.4,209.3C360.4,211 360.5,212.8 360.5,214.6C360.6,216.4 360.7,218.3 360.7,220.2C360.7,222 360.8,223.9 360.8,225.7C360.8,227.5 360.8,229.3 360.8,230.9C360.8,232.5 360.7,234.1 360.7,235.5C360.6,236.8 360.5,238 360.5,239C360.4,240 360.3,240.8 360.2,241.4C360.1,242 360,242.4 359.9,242.8C359.8,243.1 359.7,243.2 359.7,243.4C359.7,243.6 359.6,243.6 359.6,243.9C359.6,244.1 359.6,244.4 359.7,244.9C359.7,245.4 359.7,246.1 359.8,247C359.8,248 359.9,249.2 359.9,250.6C359.9,252.1 359.9,253.8 359.8,255.8C359.7,257.7 359.6,259.9 359.4,262.3C359.2,264.6 358.9,267.2 358.6,269.9C358.2,272.5 357.7,275.4 357.2,278.3C356.7,281.1 355.7,285.6 355.4,287.1M364.8,86C365,88.3 365.4,95 365.7,99.7C365.9,104.4 366.2,109.4 366.3,114.3C366.5,119.1 366.6,124.2 366.7,128.9C366.7,133.7 366.7,138.4 366.7,142.8C366.7,147.1 366.6,151.3 366.5,155.1C366.5,158.9 366.4,162.3 366.3,165.5C366.2,168.8 366.1,171.6 366,174.3C366,177 365.9,179.4 365.8,181.7C365.8,183.9 365.7,186 365.7,188C365.7,190 365.7,191.8 365.7,193.7C365.7,195.5 365.7,197.2 365.7,199C365.8,200.7 365.8,202.4 365.8,204.1C365.9,205.8 365.9,207.5 366,209.1C366.1,210.8 366.1,212.4 366.2,214C366.2,215.6 366.3,217.1 366.3,218.6C366.3,220.1 366.4,221.5 366.3,222.8C366.3,224.1 366.3,225.2 366.2,226.3C366.2,227.3 366.1,228.2 366,228.9C365.9,229.7 365.8,230.2 365.6,230.8C365.5,231.3 365.4,231.6 365.2,232.1C365.1,232.5 364.9,232.7 364.8,233.2C364.7,233.6 364.6,234.1 364.5,234.7C364.4,235.3 364.3,236.1 364.3,237C364.2,238 364.2,239.1 364.2,240.5C364.2,241.9 364.2,243.5 364.2,245.3C364.2,247.1 364.2,249.1 364.2,251.2C364.2,253.4 364.1,255.7 364.1,258.1C364,260.5 363.9,263.1 363.8,265.7C363.6,268.3 363.4,271.1 363.1,273.8C362.9,276.5 362.4,280.8 362.3,282.2M371.1,76C371.2,78.1 371.6,84.1 371.7,88.4C371.9,92.6 372.1,97.1 372.2,101.6C372.3,106.1 372.4,110.8 372.4,115.4C372.4,119.9 372.4,124.5 372.3,128.9C372.3,133.3 372.2,137.6 372.1,141.6C371.9,145.6 371.8,149.5 371.6,153.1C371.5,156.6 371.3,159.9 371.1,163C370.9,166.1 370.8,168.9 370.6,171.6C370.5,174.3 370.3,176.7 370.2,179C370.1,181.3 370,183.4 369.9,185.4C369.8,187.4 369.8,189.2 369.7,191C369.7,192.8 369.6,194.5 369.6,196.1C369.6,197.7 369.6,199.2 369.6,200.7C369.6,202.1 369.6,203.5 369.6,204.8C369.6,206.1 369.7,207.3 369.7,208.4C369.7,209.5 369.7,210.6 369.6,211.5C369.6,212.4 369.6,213.3 369.6,214C369.5,214.8 369.4,215.4 369.4,216.1C369.3,216.7 369.2,217.2 369.1,217.8C369,218.4 368.9,219 368.9,219.6C368.8,220.3 368.7,221 368.6,221.8C368.5,222.6 368.5,223.6 368.4,224.7C368.4,225.8 368.4,227 368.4,228.5C368.4,229.9 368.4,231.5 368.5,233.3C368.5,235.1 368.6,237 368.6,239.1C368.7,241.2 368.8,243.4 368.8,245.7C368.9,248 369,250.4 369,252.9C369.1,255.4 369.1,258 369.1,260.6C369.1,263.2 369.1,265.9 369,268.5C369,271.2 368.9,275.3 368.8,276.7M378.5,65C378.5,66.8 378.7,72 378.8,75.6C378.9,79.3 379,83.1 379.1,87C379.1,90.8 379.2,94.9 379.2,98.9C379.2,102.9 379.2,107.1 379.1,111.1C379,115.2 378.9,119.3 378.8,123.2C378.7,127.1 378.5,131.1 378.3,134.8C378.1,138.5 377.9,142.1 377.7,145.4C377.5,148.8 377.2,152 377,155C376.8,158 376.5,160.9 376.3,163.5C376.1,166.1 375.8,168.5 375.6,170.8C375.4,173.1 375.3,175.2 375.1,177.1C374.9,179.1 374.8,180.9 374.6,182.6C374.5,184.2 374.4,185.8 374.3,187.2C374.2,188.6 374.1,189.9 374,191.1C374,192.4 373.9,193.5 373.8,194.5C373.8,195.6 373.7,196.5 373.7,197.4C373.6,198.4 373.6,199.2 373.5,200.1C373.5,201 373.4,201.8 373.3,202.6C373.3,203.5 373.2,204.4 373.2,205.3C373.1,206.3 373.1,207.3 373.1,208.4C373,209.5 373,210.7 373,212C373,213.3 373,214.7 373.1,216.3C373.1,217.8 373.2,219.5 373.3,221.2C373.4,223 373.5,224.9 373.6,226.9C373.7,228.9 373.9,231 374,233.2C374.2,235.4 374.4,237.7 374.5,240C374.7,242.4 374.9,244.8 375,247.3C375.2,249.7 375.3,252.3 375.5,254.8C375.6,257.4 375.7,260 375.8,262.7C375.9,265.3 376.1,269.3 376.1,270.7M387.7,54.8C387.7,56.3 387.8,60.6 387.8,63.7C387.9,66.7 387.9,69.8 387.9,73C387.9,76.2 387.9,79.5 387.9,82.8C387.9,86.1 387.9,89.5 387.9,92.9C387.8,96.3 387.8,99.8 387.7,103.2C387.6,106.6 387.5,110.1 387.3,113.4C387.2,116.8 387,120.1 386.9,123.4C386.7,126.6 386.5,129.7 386.3,132.8C386,135.8 385.8,138.7 385.6,141.5C385.3,144.2 385.1,146.9 384.8,149.4C384.6,151.9 384.4,154.3 384.1,156.5C383.9,158.7 383.6,160.8 383.4,162.8C383.2,164.8 383,166.6 382.8,168.4C382.6,170.1 382.4,171.8 382.2,173.4C382,175 381.8,176.4 381.7,177.9C381.5,179.4 381.3,180.8 381.2,182.2C381,183.6 380.9,185 380.7,186.4C380.6,187.8 380.5,189.2 380.4,190.6C380.2,192 380.1,193.5 380.1,195C380,196.5 379.9,198.1 379.8,199.7C379.8,201.3 379.8,202.9 379.8,204.6C379.8,206.3 379.8,208.1 379.9,209.9C380,211.7 380.1,213.6 380.2,215.5C380.3,217.5 380.5,219.5 380.6,221.5C380.8,223.6 381,225.7 381.2,227.9C381.4,230.1 381.7,232.3 381.9,234.6C382.1,236.9 382.4,239.3 382.6,241.7C382.9,244.1 383.1,246.6 383.4,249.1C383.6,251.6 383.8,254.1 384,256.7C384.3,259.3 384.6,263.2 384.7,264.5M398.4,46.3C398.4,47.6 398.4,51.4 398.4,54C398.4,56.7 398.4,59.3 398.4,62C398.4,64.7 398.4,67.4 398.4,70.2C398.4,73 398.4,75.8 398.4,78.6C398.3,81.4 398.3,84.3 398.2,87.1C398.2,89.9 398.1,92.8 398,95.7C398,98.5 397.9,101.4 397.7,104.2C397.6,107 397.5,109.8 397.4,112.6C397.2,115.3 397.1,118.1 396.9,120.7C396.7,123.4 396.5,126 396.3,128.6C396.1,131.1 395.9,133.6 395.7,136.1C395.4,138.5 395.2,140.9 395,143.2C394.7,145.6 394.5,147.8 394.2,150.1C394,152.3 393.7,154.4 393.5,156.6C393.2,158.7 392.9,160.8 392.7,162.9C392.4,165 392.2,167 391.9,169C391.7,171.1 391.4,173.1 391.2,175.1C391,177.1 390.7,179.1 390.5,181C390.3,183 390.2,185 390,186.9C389.8,188.9 389.7,190.8 389.6,192.8C389.5,194.7 389.4,196.6 389.4,198.6C389.4,200.5 389.4,202.5 389.4,204.5C389.4,206.4 389.5,208.4 389.6,210.4C389.7,212.4 389.9,214.5 390,216.6C390.2,218.6 390.4,220.7 390.6,222.9C390.8,225.1 391.1,227.3 391.3,229.5C391.6,231.8 391.8,234.1 392.1,236.4C392.4,238.7 392.7,241.1 392.9,243.6C393.2,246 393.5,248.5 393.8,251C394,253.5 394.4,257.3 394.5,258.6M409.9,38.9C409.9,40.2 409.9,43.8 409.9,46.3C409.9,48.8 409.9,51.3 409.9,53.7C409.9,56.2 409.9,58.7 409.9,61.2C409.8,63.8 409.8,66.3 409.8,68.8C409.8,71.3 409.8,73.9 409.7,76.4C409.7,79 409.6,81.5 409.6,84.1C409.5,86.7 409.5,89.3 409.4,91.8C409.3,94.4 409.3,97 409.2,99.5C409.1,102.1 409,104.7 408.8,107.2C408.7,109.8 408.6,112.4 408.4,114.9C408.3,117.5 408.1,120 407.9,122.5C407.8,125.1 407.6,127.6 407.4,130.1C407.2,132.6 406.9,135.1 406.7,137.6C406.5,140 406.2,142.5 406,144.9C405.7,147.4 405.5,149.8 405.2,152.2C404.9,154.6 404.7,157 404.4,159.3C404.1,161.7 403.9,164 403.6,166.3C403.4,168.6 403.1,170.9 402.9,173.1C402.6,175.4 402.4,177.6 402.2,179.8C402,181.9 401.9,184.1 401.7,186.2C401.6,188.4 401.5,190.5 401.4,192.6C401.3,194.7 401.2,196.8 401.2,198.8C401.2,200.9 401.2,203 401.3,205.1C401.3,207.2 401.4,209.3 401.5,211.4C401.6,213.5 401.8,215.7 401.9,217.8C402.1,220 402.3,222.2 402.5,224.4C402.7,226.7 403,228.9 403.2,231.2C403.5,233.5 403.7,235.9 404,238.2C404.2,240.6 404.5,243 404.8,245.4C405,247.9 405.4,251.6 405.6,252.8M421.7,32.1C421.7,33.3 421.7,36.9 421.7,39.4C421.7,41.8 421.7,44.2 421.7,46.7C421.7,49.1 421.7,51.6 421.7,54C421.7,56.4 421.6,58.9 421.6,61.3C421.6,63.8 421.6,66.3 421.6,68.7C421.5,71.2 421.5,73.7 421.5,76.1C421.5,78.6 421.4,81.1 421.4,83.6C421.3,86.1 421.3,88.5 421.2,91C421.2,93.5 421.1,96 421,98.6C420.9,101.1 420.8,103.6 420.7,106.1C420.6,108.6 420.5,111.1 420.4,113.6C420.3,116.2 420.1,118.7 420,121.2C419.8,123.7 419.7,126.3 419.5,128.8C419.3,131.3 419.1,133.8 418.9,136.3C418.7,138.8 418.5,141.3 418.3,143.8C418.1,146.2 417.9,148.7 417.6,151.1C417.4,153.6 417.2,156 417,158.4C416.7,160.8 416.5,163.2 416.3,165.5C416.1,167.9 415.9,170.2 415.7,172.5C415.5,174.8 415.3,177.1 415.2,179.3C415,181.6 414.9,183.8 414.7,186.1C414.6,188.3 414.5,190.5 414.5,192.7C414.4,194.9 414.4,197.1 414.4,199.2C414.4,201.4 414.4,203.6 414.4,205.8C414.5,208 414.6,210.2 414.7,212.4C414.8,214.6 414.9,216.9 415,219.1C415.2,221.4 415.3,223.6 415.5,225.9C415.7,228.2 415.9,230.5 416.1,232.9C416.3,235.2 416.5,237.6 416.8,240C417,242.3 417.3,246 417.4,247.2M433.6,25.3C433.6,26.5 433.6,30.1 433.6,32.6C433.6,35 433.6,37.4 433.6,39.9C433.6,42.3 433.6,44.7 433.6,47.1C433.6,49.6 433.6,52 433.5,54.4C433.5,56.9 433.5,59.3 433.5,61.8C433.5,64.2 433.5,66.6 433.5,69.1C433.5,71.5 433.4,74 433.4,76.4C433.4,78.9 433.4,81.3 433.3,83.8C433.3,86.3 433.2,88.7 433.2,91.2C433.1,93.7 433.1,96.2 433,98.6C433,101.1 432.9,103.6 432.8,106.1C432.7,108.6 432.6,111.1 432.5,113.5C432.4,116 432.3,118.5 432.2,121C432.1,123.5 432,126 431.8,128.5C431.7,131 431.6,133.5 431.4,135.9C431.3,138.4 431.1,140.9 430.9,143.3C430.8,145.8 430.6,148.2 430.4,150.7C430.3,153.1 430.1,155.5 429.9,157.9C429.7,160.3 429.6,162.7 429.4,165.1C429.2,167.5 429.1,169.8 428.9,172.2C428.8,174.5 428.7,176.8 428.5,179.2C428.4,181.5 428.3,183.8 428.2,186.1C428.2,188.3 428.1,190.6 428.1,192.9C428,195.2 428,197.4 428,199.7C428,202 428,204.2 428,206.5C428.1,208.8 428.1,211.1 428.2,213.3C428.3,215.6 428.4,217.9 428.5,220.2C428.6,222.5 428.8,224.9 428.9,227.2C429,229.5 429.2,231.9 429.4,234.3C429.5,236.6 429.8,240.2 429.9,241.4M445.5,18.5C445.5,19.7 445.5,23.4 445.5,25.8C445.5,28.2 445.5,30.7 445.5,33.1C445.5,35.5 445.5,37.9 445.5,40.4C445.5,42.8 445.5,45.2 445.5,47.6C445.5,50.1 445.5,52.5 445.5,54.9C445.5,57.3 445.4,59.8 445.4,62.2C445.4,64.6 445.4,67.1 445.4,69.5C445.4,72 445.4,74.4 445.4,76.8C445.3,79.3 445.3,81.7 445.3,84.2C445.3,86.6 445.2,89.1 445.2,91.5C445.2,94 445.1,96.4 445.1,98.9C445,101.3 445,103.8 444.9,106.3C444.9,108.7 444.8,111.2 444.7,113.7C444.7,116.1 444.6,118.6 444.5,121.1C444.4,123.5 444.3,126 444.2,128.4C444.1,130.9 444,133.4 443.9,135.8C443.8,138.3 443.7,140.7 443.6,143.2C443.5,145.6 443.4,148 443.2,150.5C443.1,152.9 443,155.3 442.9,157.7C442.8,160.1 442.6,162.5 442.5,164.9C442.4,167.3 442.3,169.7 442.2,172.1C442.1,174.5 442,176.8 441.9,179.2C441.9,181.5 441.8,183.9 441.7,186.2C441.7,188.5 441.6,190.9 441.6,193.2C441.6,195.5 441.6,197.9 441.6,200.2C441.6,202.5 441.6,204.8 441.6,207.2C441.6,209.5 441.7,211.8 441.7,214.2C441.8,216.5 441.9,218.9 441.9,221.2C442,223.6 442.1,225.9 442.2,228.3C442.3,230.7 442.5,234.3 442.5,235.4M457.4,11.8C457.4,13 457.4,16.6 457.4,19C457.4,21.5 457.4,23.9 457.4,26.3C457.4,28.7 457.4,31.2 457.4,33.6C457.4,36 457.4,38.4 457.4,40.9C457.4,43.3 457.4,45.7 457.4,48.1C457.4,50.6 457.4,53 457.4,55.4C457.4,57.8 457.4,60.3 457.4,62.7C457.4,65.1 457.3,67.6 457.3,70C457.3,72.4 457.3,74.8 457.3,77.3C457.3,79.7 457.3,82.1 457.3,84.6C457.2,87 457.2,89.5 457.2,91.9C457.2,94.3 457.2,96.8 457.1,99.2C457.1,101.7 457.1,104.1 457,106.6C457,109 456.9,111.5 456.9,113.9C456.8,116.3 456.8,118.8 456.7,121.2C456.7,123.7 456.6,126.1 456.6,128.6C456.5,131 456.4,133.5 456.4,135.9C456.3,138.3 456.2,140.8 456.1,143.2C456.1,145.7 456,148.1 455.9,150.5C455.8,152.9 455.8,155.4 455.7,157.8C455.6,160.2 455.5,162.6 455.5,165C455.4,167.4 455.3,169.8 455.2,172.2C455.2,174.6 455.1,177 455.1,179.3C455,181.7 455,184.1 454.9,186.5C454.9,188.9 454.9,191.2 454.9,193.6C454.8,196 454.8,198.3 454.8,200.7C454.8,203.1 454.9,205.4 454.9,207.8C454.9,210.2 454.9,212.5 455,214.9C455,217.3 455.1,219.7 455.1,222C455.2,224.4 455.3,228 455.3,229.2M469.3,5C469.3,6.2 469.3,9.9 469.3,12.3C469.3,14.7 469.3,17.1 469.3,19.6C469.3,22 469.3,24.4 469.3,26.8C469.3,29.2 469.3,31.7 469.3,34.1C469.3,36.5 469.3,38.9 469.3,41.4C469.3,43.8 469.3,46.2 469.3,48.6C469.3,51.1 469.3,53.5 469.3,55.9C469.3,58.3 469.3,60.8 469.3,63.2C469.3,65.6 469.3,68 469.3,70.5C469.3,72.9 469.2,75.3 469.2,77.7C469.2,80.2 469.2,82.6 469.2,85C469.2,87.5 469.2,89.9 469.2,92.3C469.2,94.8 469.1,97.2 469.1,99.6C469.1,102.1 469.1,104.5 469.1,106.9C469,109.4 469,111.8 469,114.2C469,116.7 468.9,119.1 468.9,121.5C468.9,124 468.8,126.4 468.8,128.8C468.8,131.3 468.7,133.7 468.7,136.1C468.6,138.6 468.6,141 468.5,143.4C468.5,145.9 468.4,148.3 468.4,150.7C468.3,153.1 468.3,155.6 468.3,158C468.2,160.4 468.2,162.8 468.1,165.2C468.1,167.6 468,170 468,172.4C468,174.9 467.9,177.3 467.9,179.7C467.9,182.1 467.8,184.5 467.8,186.8C467.8,189.2 467.8,191.6 467.8,194C467.8,196.4 467.8,198.8 467.8,201.2C467.8,203.6 467.8,206 467.8,208.4C467.8,210.8 467.8,213.2 467.8,215.6C467.9,218 467.9,221.6 467.9,222.8M212.8,171.4C214.3,170.6 218.9,168.1 221.9,166.5C225,164.9 228.1,163.3 231.2,161.7C234.3,160.1 237.4,158.6 240.5,157C243.7,155.5 246.8,153.9 250,152.4C253.2,150.9 256.4,149.4 259.7,148C263.1,146.5 266.4,145 270,143.7C273.5,142.3 277.2,141 281.1,139.9C284.9,138.8 289,137.8 293.1,137.2C297.3,136.6 301.8,136.2 306.1,136.3C310.5,136.3 315,136.8 319.3,137.3C323.5,137.8 327.8,138.8 331.6,139.3C335.4,139.8 339,140.4 342.2,140.5C345.4,140.6 348.3,140.4 350.9,139.8C353.6,139.1 355.9,138 358,136.6C360.1,135.1 361.8,133.2 363.5,130.9C365.2,128.7 366.5,125.9 368,122.9C369.4,119.9 370.7,116.3 372.2,112.7C373.7,109 375.3,104.9 377.1,100.9C378.9,96.9 380.8,92.6 383,88.8C385.1,84.9 387.5,81.1 389.9,77.8C392.4,74.5 395.1,71.6 397.8,69C400.5,66.4 403.3,64.2 406.2,62.1C409,60 411.9,58.2 414.9,56.4C417.8,54.6 420.7,52.9 423.6,51.2C426.6,49.5 429.5,47.8 432.5,46.2C435.4,44.5 438.4,42.8 441.3,41.1C444.2,39.5 447.2,37.8 450.1,36.1C453.1,34.4 456,32.8 459,31.1C461.9,29.4 464.8,27.8 467.8,26.1C470.7,24.4 475.1,21.9 476.6,21.1M212.9,185.3C214.4,184.5 219,182.1 222.1,180.4C225.2,178.8 228.4,177.2 231.5,175.6C234.7,174 237.8,172.4 241,170.9C244.2,169.3 247.4,167.8 250.7,166.3C254,164.8 257.3,163.3 260.7,162C264.1,160.6 267.6,159.1 271.3,158C274.9,156.9 278.7,155.7 282.7,155.2C286.7,154.6 291,154.2 295.4,154.5C299.7,154.8 304.4,155.7 308.9,156.8C313.4,157.8 318.1,159.6 322.3,161C326.5,162.3 330.5,163.9 334.1,164.8C337.7,165.8 340.9,166.4 343.9,166.6C346.8,166.7 349.4,166.4 351.8,165.7C354.2,164.9 356.4,163.8 358.3,162.3C360.3,160.8 362,158.9 363.6,156.7C365.2,154.5 366.5,151.9 367.9,148.9C369.3,145.8 370.6,142.3 372,138.4C373.5,134.4 375,129.8 376.8,125.2C378.6,120.5 380.6,115.3 382.7,110.5C384.9,105.8 387.3,100.8 389.8,96.6C392.3,92.4 394.9,88.6 397.6,85.3C400.4,82.1 403.2,79.5 406.1,77C408.9,74.6 411.8,72.7 414.8,70.8C417.7,68.8 420.6,67.1 423.6,65.4C426.5,63.6 429.5,61.9 432.4,60.2C435.4,58.5 438.3,56.9 441.3,55.2C444.2,53.5 447.2,51.8 450.1,50.1C453.1,48.5 456,46.8 458.9,45.1C461.9,43.4 464.8,41.8 467.8,40.1C470.7,38.4 475.1,35.9 476.6,35.1M213,198C214.5,197.2 219.1,194.7 222.3,193.1C225.4,191.4 228.6,189.8 231.7,188.2C234.9,186.6 238.1,185 241.4,183.4C244.7,181.9 247.9,180.3 251.3,178.8C254.6,177.3 258,175.8 261.5,174.5C265,173.2 268.6,171.8 272.4,170.9C276.2,170 280.1,169.3 284.3,169.2C288.4,169.1 292.9,169.6 297.4,170.5C302,171.5 306.9,173.3 311.4,174.8C316,176.4 320.6,178.4 324.7,179.8C328.8,181.2 332.5,182.5 335.9,183.2C339.2,183.9 342.1,184.2 344.8,184C347.5,183.9 349.8,183.3 352.1,182.5C354.3,181.6 356.4,180.5 358.3,179.1C360.2,177.7 361.8,176.1 363.3,174.1C364.9,172.2 366.1,170.1 367.4,167.5C368.7,164.8 369.8,161.9 371.3,158.2C372.7,154.6 374.1,150.3 375.9,145.5C377.7,140.8 379.7,135.2 382,129.9C384.2,124.7 386.7,118.8 389.2,113.9C391.8,109 394.5,104.4 397.3,100.5C400,96.7 402.9,93.6 405.8,90.9C408.7,88.1 411.6,86.1 414.6,84C417.5,81.9 420.5,80.2 423.4,78.4C426.4,76.6 429.4,74.9 432.3,73.2C435.3,71.4 438.3,69.7 441.2,68C444.2,66.3 447.1,64.7 450.1,63C453,61.3 456,59.6 458.9,57.9C461.9,56.2 464.8,54.6 467.8,52.9C470.7,51.2 475.1,48.7 476.6,47.9M213,210.7C214.6,209.9 219.2,207.4 222.4,205.7C225.5,204 228.7,202.4 231.9,200.7C235.1,199.1 238.4,197.4 241.7,195.8C245,194.2 248.3,192.6 251.7,191.1C255.2,189.6 258.6,188 262.2,186.8C265.8,185.5 269.4,184.3 273.3,183.6C277.2,183 281.2,182.6 285.5,183C289.8,183.3 294.4,184.4 299,185.6C303.5,186.9 308.5,188.9 313,190.4C317.5,191.9 321.9,193.6 325.9,194.6C329.8,195.6 333.4,196.3 336.6,196.6C339.8,196.8 342.6,196.6 345.2,196.2C347.8,195.8 350.1,195 352.2,194.1C354.4,193.2 356.4,192.1 358.3,190.8C360.1,189.6 361.7,188.2 363.1,186.7C364.6,185.1 365.7,183.4 366.9,181.3C368.1,179.1 369.1,176.8 370.4,173.7C371.7,170.5 373,166.8 374.8,162.4C376.5,158 378.5,152.6 380.8,147.2C383,141.8 385.6,135.6 388.3,130.3C390.9,125 393.8,119.7 396.6,115.5C399.4,111.2 402.4,107.8 405.3,104.8C408.2,101.7 411.2,99.6 414.2,97.4C417.2,95.2 420.2,93.4 423.2,91.5C426.2,89.6 429.2,87.9 432.2,86.2C435.2,84.4 438.1,82.7 441.1,81C444.1,79.2 447.1,77.5 450,75.8C453,74.1 455.9,72.4 458.9,70.8C461.9,69.1 464.8,67.4 467.7,65.7C470.7,64 475.1,61.5 476.6,60.7M213,223.4C214.6,222.5 219.3,219.9 222.5,218.2C225.6,216.5 228.9,214.8 232.1,213.1C235.4,211.4 238.7,209.7 242,208.1C245.3,206.4 248.7,204.7 252.2,203.2C255.6,201.7 259.1,200 262.7,198.8C266.4,197.6 270.1,196.5 274,196C277.9,195.5 282,195.5 286.2,196.1C290.5,196.6 295,198.1 299.5,199.3C304,200.6 308.7,202.5 313.1,203.8C317.5,205 321.8,206.2 325.7,206.8C329.6,207.4 333.2,207.6 336.5,207.4C339.7,207.3 342.6,206.7 345.3,206C347.9,205.4 350.2,204.4 352.4,203.4C354.6,202.4 356.6,201.3 358.4,200.2C360.2,199 361.8,197.9 363.2,196.5C364.6,195.2 365.6,193.9 366.7,192C367.8,190.2 368.6,188.3 369.8,185.5C371,182.8 372.1,179.7 373.7,175.6C375.3,171.6 377.2,166.6 379.5,161.5C381.7,156.3 384.4,150.1 387.1,144.7C389.7,139.4 392.7,133.9 395.6,129.5C398.6,125.1 401.6,121.6 404.6,118.4C407.6,115.3 410.6,113 413.7,110.8C416.7,108.5 419.7,106.7 422.8,104.7C425.8,102.8 428.9,101 431.9,99.2C434.9,97.4 437.9,95.7 440.9,93.9C443.9,92.2 446.9,90.5 449.9,88.7C452.9,87 455.9,85.3 458.8,83.6C461.8,81.9 464.8,80.2 467.7,78.5C470.7,76.9 475.1,74.3 476.6,73.5M213.1,236C214.7,235.1 219.4,232.5 222.7,230.7C225.9,229 229.1,227.2 232.4,225.4C235.8,223.7 239.1,221.9 242.5,220.2C245.9,218.4 249.3,216.6 252.8,215C256.3,213.4 259.9,211.7 263.5,210.5C267.2,209.3 270.8,208.2 274.7,207.9C278.5,207.5 282.5,207.7 286.6,208.3C290.7,208.9 295,210.5 299.3,211.7C303.6,212.9 308,214.7 312.2,215.8C316.5,216.8 320.7,217.8 324.6,218.1C328.6,218.4 332.4,218.2 335.8,217.8C339.2,217.4 342.3,216.5 345,215.6C347.8,214.7 350.2,213.5 352.5,212.5C354.8,211.4 356.8,210.3 358.6,209.1C360.4,208 362,206.9 363.4,205.6C364.7,204.3 365.7,203.1 366.8,201.3C367.8,199.6 368.5,197.7 369.5,195.1C370.6,192.5 371.5,189.6 373,185.8C374.4,182.1 376.2,177.5 378.3,172.7C380.5,167.9 383.1,162 385.8,157C388.5,151.9 391.5,146.7 394.5,142.5C397.4,138.3 400.5,134.8 403.6,131.7C406.6,128.7 409.7,126.4 412.8,124.2C415.9,121.9 419.1,120 422.2,118C425.3,116.1 428.4,114.2 431.5,112.4C434.5,110.5 437.6,108.7 440.7,107C443.7,105.2 446.7,103.4 449.7,101.7C452.7,99.9 455.7,98.2 458.7,96.5C461.7,94.8 464.7,93.1 467.7,91.4C470.6,89.7 475.1,87.2 476.5,86.3M213.2,248.6C214.9,247.7 219.6,245 222.9,243.2C226.2,241.3 229.6,239.5 233,237.6C236.4,235.8 239.9,233.8 243.4,232C246.9,230.1 250.5,228.2 254.1,226.5C257.7,224.8 261.3,223 265,221.7C268.6,220.4 272.3,219.2 276.1,218.8C279.8,218.4 283.6,218.6 287.5,219.3C291.4,219.9 295.3,221.4 299.3,222.6C303.3,223.8 307.3,225.6 311.4,226.6C315.4,227.6 319.5,228.5 323.4,228.8C327.3,229.1 331.2,228.8 334.7,228.3C338.3,227.8 341.6,226.8 344.5,225.8C347.5,224.8 350.1,223.5 352.5,222.3C354.9,221.1 357,219.9 358.8,218.7C360.7,217.4 362.3,216.3 363.7,214.8C365.1,213.3 366,211.8 367,209.9C368,207.9 368.6,205.8 369.5,203.1C370.5,200.4 371.3,197.3 372.6,193.7C373.9,190 375.5,185.7 377.5,181.3C379.5,176.9 382,171.6 384.6,167.2C387.2,162.7 390.2,158.1 393.1,154.3C396.1,150.6 399.2,147.5 402.3,144.6C405.4,141.8 408.6,139.7 411.8,137.4C415,135.2 418.2,133.3 421.3,131.3C424.5,129.3 427.7,127.4 430.9,125.6C434,123.7 437.1,121.8 440.2,120C443.3,118.2 446.4,116.4 449.5,114.7C452.5,112.9 455.5,111.1 458.6,109.4C461.6,107.7 464.6,106 467.6,104.3C470.5,102.6 475,100 476.5,99.2M213.4,261.3C215,260.3 219.9,257.6 223.3,255.6C226.7,253.7 230.1,251.8 233.7,249.8C237.3,247.7 240.9,245.7 244.6,243.6C248.4,241.6 252.2,239.4 256,237.5C259.8,235.6 263.6,233.6 267.4,232.1C271.2,230.6 275,229.2 278.7,228.6C282.5,228 286.1,227.9 289.8,228.4C293.4,228.9 297,230.2 300.7,231.4C304.3,232.5 307.9,234.3 311.7,235.4C315.4,236.5 319.2,237.7 322.9,238.1C326.6,238.6 330.4,238.6 333.9,238.3C337.5,237.9 340.9,237 344,236.1C347,235.2 349.8,233.9 352.3,232.7C354.8,231.5 357,230.1 359,228.6C360.9,227.2 362.5,225.7 363.9,223.8C365.3,222 366.3,220 367.2,217.6C368.2,215.3 368.7,212.6 369.6,209.6C370.5,206.6 371.1,203.2 372.3,199.6C373.6,196 375,191.9 376.8,188C378.7,184 381,179.7 383.5,175.9C386,172.1 388.9,168.4 391.8,165.3C394.7,162.2 397.8,159.6 400.9,157.1C404.1,154.7 407.3,152.6 410.5,150.5C413.8,148.4 417.1,146.4 420.3,144.5C423.6,142.5 426.8,140.6 430.1,138.7C433.3,136.8 436.5,134.9 439.7,133.1C442.8,131.2 446,129.4 449.1,127.6C452.2,125.8 455.3,124.1 458.3,122.3C461.4,120.6 464.4,118.9 467.4,117.1C470.4,115.4 474.9,112.9 476.4,112M213.4,274C215.1,273 220,270.2 223.5,268.2C226.9,266.2 230.5,264.2 234.3,262C238,259.9 241.9,257.6 245.9,255.3C249.9,253.1 254,250.7 258.2,248.4C262.3,246.2 266.6,243.8 270.7,241.9C274.8,240 278.9,238.2 282.8,237.1C286.7,236.1 290.4,235.5 294,235.6C297.6,235.6 300.9,236.5 304.3,237.4C307.6,238.4 310.8,240 314.1,241.2C317.4,242.4 320.7,243.8 324,244.6C327.4,245.4 330.8,245.9 334.1,245.9C337.4,246 340.7,245.6 343.7,244.9C346.7,244.2 349.5,243.1 352.1,241.9C354.6,240.6 356.9,239.2 358.8,237.4C360.8,235.7 362.4,233.7 363.8,231.4C365.2,229.1 366.2,226.6 367.1,223.7C368.1,220.9 368.7,217.7 369.5,214.4C370.3,211.1 371,207.6 372.1,204.1C373.3,200.7 374.6,197.1 376.4,193.7C378.1,190.4 380.3,187 382.6,184C385,181 387.7,178.3 390.5,175.9C393.3,173.4 396.4,171.3 399.5,169.2C402.6,167.1 405.9,165.1 409.2,163.2C412.5,161.2 415.9,159.3 419.2,157.4C422.5,155.4 425.9,153.5 429.2,151.6C432.5,149.8 435.8,147.9 439,146C442.2,144.2 445.4,142.4 448.6,140.6C451.8,138.8 454.9,137 458,135.2C461.1,133.5 464.2,131.7 467.2,130C470.3,128.3 474.8,125.7 476.3,124.9M213.2,286.9C214.9,285.9 219.9,283.1 223.4,281C226.9,279 230.5,276.9 234.4,274.6C238.3,272.4 242.3,270 246.5,267.5C250.8,265.1 255.3,262.4 259.8,259.8C264.3,257.2 269.1,254.3 273.6,251.9C278.2,249.5 282.9,247 287.2,245.3C291.5,243.5 295.6,242.1 299.4,241.5C303.1,240.8 306.5,240.9 309.7,241.3C313,241.7 315.8,242.9 318.8,244C321.7,245 324.5,246.5 327.3,247.5C330.2,248.5 333.1,249.4 335.9,249.9C338.7,250.3 341.6,250.4 344.3,250C347,249.7 349.7,248.9 352,247.7C354.4,246.6 356.6,245 358.4,243.1C360.3,241.2 361.9,238.8 363.3,236.2C364.7,233.6 365.7,230.6 366.6,227.5C367.6,224.4 368.2,221 369.1,217.8C370,214.6 370.7,211.2 371.9,208.2C373,205.1 374.3,202.2 376,199.6C377.7,196.9 379.6,194.5 381.9,192.3C384.1,190 386.7,188.1 389.5,186.2C392.2,184.2 395.2,182.5 398.3,180.7C401.4,178.9 404.7,177.1 408,175.3C411.3,173.5 414.7,171.7 418.1,169.9C421.5,168 424.9,166.2 428.2,164.4C431.6,162.5 435,160.7 438.3,158.9C441.6,157 444.9,155.2 448.1,153.4C451.3,151.6 454.5,149.9 457.6,148.1C460.8,146.3 463.9,144.6 467,142.9C470.1,141.1 474.6,138.6 476.1,137.7M213,299.8C214.7,298.8 219.5,296.1 223,294.1C226.5,292 230.1,290 233.9,287.7C237.8,285.4 241.8,283 246.2,280.5C250.5,277.9 255.1,275.1 259.9,272.3C264.7,269.4 269.8,266.3 274.8,263.3C279.8,260.4 285.1,257.2 289.9,254.7C294.8,252.1 299.6,249.7 303.8,248.1C308,246.5 311.8,245.4 315.2,244.9C318.6,244.5 321.6,244.8 324.4,245.3C327.2,245.7 329.6,246.9 332.1,247.7C334.6,248.5 336.9,249.6 339.2,250.2C341.6,250.8 343.9,251.3 346.1,251.1C348.3,251 350.6,250.5 352.6,249.5C354.6,248.6 356.5,247 358.2,245.2C359.8,243.3 361.3,240.9 362.6,238.3C363.9,235.8 364.9,232.7 365.9,229.9C366.9,227 367.7,223.8 368.6,221C369.6,218.2 370.4,215.4 371.6,213C372.8,210.6 374.1,208.4 375.8,206.4C377.4,204.4 379.3,202.7 381.5,201C383.7,199.4 386.2,197.9 388.8,196.4C391.5,194.8 394.5,193.4 397.5,191.8C400.5,190.2 403.8,188.6 407.1,187C410.4,185.4 413.8,183.7 417.2,182C420.6,180.3 424,178.5 427.4,176.8C430.8,175 434.2,173.2 437.6,171.5C441,169.7 444.3,167.9 447.5,166.2C450.8,164.4 454.1,162.6 457.2,160.9C460.4,159.1 463.6,157.4 466.7,155.7C469.8,153.9 474.4,151.4 476,150.5M212.7,312.8C214.3,311.9 219,309.2 222.4,307.2C225.8,305.3 229.2,303.3 232.9,301.1C236.7,298.9 240.6,296.6 244.8,294.1C249,291.6 253.5,288.9 258.3,286C263,283.2 268.2,280 273.4,276.8C278.6,273.6 284.2,270.1 289.4,266.9C294.7,263.8 300.2,260.4 304.9,257.8C309.7,255.2 314.2,252.9 318.2,251.4C322.1,249.8 325.5,248.9 328.5,248.4C331.6,247.9 334.1,248.2 336.5,248.4C338.9,248.6 340.9,249.4 342.9,249.7C345,250.1 346.8,250.5 348.6,250.5C350.4,250.4 352.1,250.2 353.7,249.4C355.3,248.6 356.9,247.4 358.3,245.8C359.7,244.3 360.9,242.2 362.1,240C363.3,237.9 364.3,235.4 365.4,233C366.4,230.7 367.3,228.2 368.3,226C369.4,223.8 370.4,221.7 371.6,219.8C372.9,217.9 374.3,216.3 376,214.8C377.6,213.2 379.5,211.9 381.7,210.6C383.8,209.2 386.2,208 388.8,206.7C391.4,205.3 394.3,204 397.3,202.6C400.3,201.3 403.5,199.8 406.7,198.3C409.9,196.9 413.3,195.3 416.7,193.7C420.1,192.2 423.5,190.5 426.9,188.9C430.3,187.2 433.7,185.5 437.1,183.9C440.5,182.2 443.8,180.4 447.1,178.7C450.4,177 453.7,175.3 456.9,173.6C460.1,171.9 463.3,170.1 466.5,168.4C469.6,166.7 474.2,164.2 475.8,163.3M212.4,325.8C214,324.9 218.6,322.3 221.8,320.4C225,318.5 228.3,316.7 231.8,314.6C235.3,312.6 239,310.5 242.9,308.1C246.8,305.8 251,303.4 255.5,300.7C259.9,298 264.8,295.1 269.8,292C274.8,288.9 280.2,285.5 285.6,282.1C290.9,278.8 296.6,275.1 301.8,271.9C307,268.7 312.2,265.4 316.7,262.9C321.2,260.3 325.3,258.2 328.9,256.6C332.5,255 335.5,254.1 338.2,253.4C340.9,252.7 343.1,252.7 345.2,252.4C347.2,252.2 348.9,252.4 350.5,252.2C352.1,251.9 353.5,251.7 354.9,251.1C356.2,250.5 357.5,249.6 358.6,248.5C359.8,247.4 360.9,245.9 362,244.3C363.1,242.8 364.1,240.9 365.2,239.2C366.2,237.4 367.2,235.6 368.4,233.9C369.5,232.2 370.7,230.6 372,229.1C373.4,227.6 374.9,226.2 376.6,224.8C378.3,223.5 380.2,222.3 382.4,221C384.5,219.8 386.9,218.6 389.5,217.4C392,216.1 394.8,214.9 397.7,213.6C400.6,212.3 403.7,211 406.9,209.6C410.1,208.3 413.4,206.8 416.7,205.4C420,203.9 423.4,202.4 426.7,200.8C430.1,199.3 433.5,197.7 436.8,196.1C440.2,194.5 443.5,192.8 446.8,191.2C450.1,189.5 453.4,187.9 456.7,186.2C459.9,184.5 463.1,182.8 466.2,181.1C469.4,179.4 474.1,176.9 475.6,176.1M212.2,338.7C213.7,337.8 218.2,335.3 221.3,333.5C224.4,331.7 227.6,329.9 230.9,328C234.2,326.1 237.5,324.2 241.1,322.1C244.7,320 248.5,317.8 252.5,315.4C256.5,313 260.8,310.5 265.4,307.7C269.9,305 274.8,302 279.8,298.9C284.8,295.9 290.2,292.5 295.3,289.2C300.5,286 305.9,282.5 310.8,279.5C315.7,276.4 320.4,273.4 324.6,271C328.8,268.6 332.5,266.5 335.8,264.9C339,263.3 341.8,262.3 344.2,261.4C346.7,260.5 348.6,260 350.4,259.4C352.2,258.8 353.7,258.5 355,257.8C356.4,257.2 357.6,256.6 358.7,255.7C359.9,254.9 360.9,253.9 362,252.7C363.1,251.6 364.1,250.3 365.2,248.9C366.3,247.6 367.4,246.2 368.7,244.7C369.9,243.3 371.2,241.9 372.7,240.5C374.2,239.1 375.8,237.7 377.6,236.4C379.4,235.1 381.4,233.8 383.5,232.5C385.7,231.2 388.1,230 390.6,228.8C393.1,227.5 395.9,226.3 398.7,225C401.5,223.8 404.6,222.5 407.6,221.2C410.7,219.9 413.9,218.5 417.1,217.1C420.3,215.7 423.7,214.3 426.9,212.8C430.2,211.4 433.6,209.8 436.9,208.3C440.2,206.8 443.5,205.2 446.8,203.6C450.1,202 453.3,200.4 456.6,198.7C459.8,197.1 463,195.4 466.1,193.8C469.3,192.1 474,189.6 475.5,188.8M212.1,351.6C213.6,350.7 218,348.2 221.1,346.5C224.1,344.8 227.1,343 230.2,341.2C233.4,339.5 236.5,337.6 239.8,335.7C243.1,333.8 246.5,331.9 250.1,329.8C253.7,327.7 257.5,325.5 261.5,323.1C265.5,320.8 269.7,318.3 274.1,315.6C278.5,313 283.2,310.2 287.9,307.3C292.7,304.4 297.7,301.3 302.5,298.4C307.3,295.4 312.2,292.4 316.6,289.7C321.1,287 325.4,284.4 329.2,282.2C333,280 336.4,278.1 339.4,276.6C342.5,275 345,273.8 347.3,272.7C349.6,271.6 351.4,270.9 353.2,270C354.9,269.2 356.3,268.5 357.7,267.6C359,266.7 360.2,265.9 361.5,264.9C362.7,263.8 363.8,262.7 365.1,261.5C366.3,260.3 367.6,259 369,257.6C370.3,256.3 371.8,254.8 373.4,253.4C375,252 376.8,250.6 378.7,249.2C380.6,247.8 382.6,246.4 384.9,245C387.1,243.7 389.5,242.3 392,241C394.5,239.7 397.2,238.4 400,237.1C402.8,235.8 405.8,234.5 408.7,233.2C411.7,231.9 414.9,230.6 418,229.2C421.1,227.8 424.3,226.4 427.5,225C430.7,223.5 434,222.1 437.2,220.6C440.5,219.1 443.7,217.5 447,216C450.2,214.4 453.4,212.8 456.6,211.2C459.8,209.7 463,208 466.1,206.4C469.3,204.8 473.9,202.3 475.5,201.5M212,364.4C213.5,363.6 217.9,361.1 220.9,359.4C223.9,357.7 226.9,356 229.9,354.3C232.9,352.5 235.9,350.8 239,349C242.2,347.3 245.3,345.5 248.6,343.6C251.9,341.7 255.2,339.8 258.7,337.7C262.3,335.7 265.9,333.6 269.8,331.3C273.6,329.1 277.6,326.7 281.8,324.3C285.9,321.9 290.3,319.3 294.6,316.8C299,314.2 303.5,311.5 307.8,309C312.1,306.5 316.5,303.9 320.5,301.6C324.6,299.3 328.4,297.1 331.9,295.1C335.4,293.2 338.6,291.5 341.4,290C344.2,288.4 346.7,287.2 348.9,285.9C351.2,284.7 353.1,283.7 354.9,282.5C356.7,281.4 358.2,280.4 359.8,279.2C361.4,278.1 362.8,276.9 364.3,275.7C365.8,274.4 367.2,273 368.8,271.6C370.4,270.2 372.1,268.8 373.9,267.3C375.7,265.8 377.6,264.3 379.6,262.8C381.6,261.3 383.8,259.8 386.1,258.4C388.4,256.9 390.9,255.5 393.5,254.1C396,252.6 398.7,251.3 401.5,249.9C404.2,248.5 407.1,247.2 410.1,245.8C413,244.4 416,243.1 419.1,241.7C422.1,240.3 425.2,238.9 428.4,237.4C431.5,236 434.7,234.5 437.8,233C441,231.6 444.2,230 447.3,228.5C450.5,227 453.7,225.4 456.8,223.8C460,222.3 463.1,220.7 466.3,219C469.4,217.4 474,215 475.6,214.2M212,377.2C213.5,376.4 217.9,373.9 220.8,372.2C223.8,370.5 226.8,368.9 229.7,367.2C232.7,365.5 235.7,363.8 238.7,362.1C241.7,360.4 244.7,358.6 247.8,356.9C250.9,355.1 254,353.3 257.2,351.5C260.4,349.7 263.7,347.8 267.1,345.8C270.5,343.9 274,341.9 277.7,339.8C281.3,337.7 285,335.6 288.9,333.4C292.7,331.2 296.7,329 300.7,326.8C304.6,324.5 308.7,322.3 312.6,320.1C316.5,317.9 320.4,315.8 324,313.7C327.7,311.7 331.2,309.8 334.4,308C337.6,306.3 340.6,304.6 343.3,303.1C346,301.5 348.5,300.1 350.8,298.7C353,297.3 355.1,296 357.1,294.6C359,293.3 360.8,291.9 362.7,290.5C364.6,289.1 366.3,287.7 368.2,286.2C370.1,284.7 371.9,283.1 374,281.6C376,280.1 378,278.5 380.3,276.9C382.5,275.3 384.8,273.8 387.2,272.2C389.6,270.7 392.1,269.1 394.7,267.6C397.3,266.1 400.1,264.7 402.8,263.2C405.6,261.7 408.5,260.3 411.3,258.9C414.2,257.4 417.2,256 420.2,254.5C423.2,253.1 426.2,251.6 429.3,250.2C432.3,248.7 435.4,247.2 438.5,245.7C441.6,244.2 444.7,242.7 447.8,241.2C451,239.6 454.1,238.1 457.2,236.5C460.3,234.9 463.4,233.3 466.5,231.7C469.5,230.1 474.1,227.7 475.7,226.9M212,390C213.5,389.2 217.9,386.7 220.8,385C223.8,383.4 226.7,381.7 229.7,380C232.6,378.3 235.6,376.7 238.5,375C241.5,373.3 244.5,371.6 247.5,369.9C250.5,368.2 253.5,366.5 256.5,364.8C259.6,363 262.6,361.3 265.8,359.5C268.9,357.7 272.1,355.9 275.4,354C278.7,352.2 282.1,350.3 285.5,348.4C288.9,346.5 292.5,344.5 296,342.5C299.6,340.6 303.3,338.6 306.9,336.6C310.5,334.6 314.2,332.6 317.8,330.7C321.4,328.8 324.9,326.9 328.2,325C331.6,323.2 334.8,321.4 337.8,319.7C340.8,318 343.7,316.4 346.3,314.8C349,313.2 351.5,311.7 353.8,310.1C356.2,308.6 358.4,307 360.6,305.5C362.8,303.9 364.9,302.4 367.1,300.8C369.3,299.2 371.4,297.6 373.7,296C375.9,294.4 378.2,292.8 380.6,291.1C382.9,289.5 385.4,287.9 387.9,286.3C390.5,284.7 393.1,283.1 395.7,281.5C398.4,279.9 401.2,278.4 404,276.8C406.7,275.3 409.6,273.7 412.5,272.2C415.4,270.7 418.3,269.2 421.2,267.7C424.2,266.2 427.2,264.7 430.2,263.2C433.2,261.6 436.2,260.1 439.3,258.6C442.3,257.1 445.3,255.5 448.4,254C451.4,252.4 454.5,250.8 457.6,249.3C460.6,247.7 463.7,246.1 466.7,244.5C469.8,242.9 474.3,240.4 475.8,239.6M212,402.8C213.5,402 217.9,399.5 220.8,397.8C223.8,396.2 226.7,394.5 229.6,392.8C232.6,391.2 235.5,389.5 238.5,387.8C241.4,386.1 244.4,384.5 247.3,382.8C250.3,381.1 253.3,379.4 256.2,377.7C259.2,376 262.2,374.3 265.2,372.6C268.3,370.9 271.3,369.2 274.4,367.5C277.5,365.7 280.6,364 283.8,362.2C287,360.4 290.2,358.6 293.5,356.8C296.8,355 300.2,353.2 303.6,351.4C306.9,349.6 310.4,347.7 313.8,345.9C317.2,344.1 320.6,342.3 323.9,340.5C327.2,338.7 330.4,336.9 333.6,335.2C336.7,333.4 339.7,331.7 342.6,330C345.5,328.3 348.2,326.7 350.9,325C353.5,323.4 356.1,321.7 358.6,320.1C361.1,318.4 363.5,316.8 365.9,315.2C368.3,313.5 370.7,311.9 373.2,310.2C375.6,308.6 378.1,306.9 380.6,305.2C383.1,303.6 385.7,301.9 388.4,300.3C391,298.6 393.7,297 396.4,295.3C399.2,293.7 402,292.1 404.8,290.5C407.6,288.9 410.5,287.3 413.4,285.7C416.2,284.1 419.2,282.6 422.1,281C425,279.4 428,277.9 430.9,276.3C433.9,274.7 436.9,273.2 439.9,271.6C442.9,270 445.9,268.5 448.9,266.9C451.9,265.3 454.9,263.7 457.9,262.1C460.9,260.5 464,258.9 467,257.3C470,255.7 474.5,253.2 476,252.4M212,415.6C213.5,414.8 217.9,412.3 220.8,410.6C223.8,409 226.7,407.3 229.6,405.6C232.6,404 235.5,402.3 238.5,400.6C241.4,398.9 244.3,397.3 247.3,395.6C250.2,393.9 253.2,392.3 256.1,390.6C259.1,388.9 262.1,387.2 265,385.6C268,383.9 271,382.2 274,380.5C277,378.8 280,377.1 283.1,375.4C286.2,373.7 289.2,372 292.4,370.3C295.5,368.5 298.7,366.8 301.9,365.1C305.1,363.3 308.3,361.6 311.5,359.9C314.8,358.1 318,356.4 321.2,354.6C324.4,352.9 327.7,351.2 330.8,349.4C333.9,347.7 337,346 339.9,344.3C342.9,342.6 345.8,340.9 348.6,339.2C351.4,337.5 354.1,335.8 356.8,334.1C359.5,332.5 362.1,330.8 364.7,329.1C367.4,327.4 370,325.8 372.6,324.1C375.2,322.4 377.8,320.7 380.5,319C383.1,317.4 385.8,315.7 388.6,314C391.3,312.3 394.1,310.7 396.9,309C399.7,307.3 402.5,305.7 405.4,304C408.2,302.4 411.1,300.8 414,299.1C416.9,297.5 419.8,295.9 422.7,294.3C425.6,292.7 428.6,291.1 431.5,289.5C434.5,287.9 437.4,286.3 440.4,284.7C443.4,283.1 446.3,281.5 449.3,279.9C452.3,278.2 455.3,276.6 458.3,275C461.2,273.4 464.2,271.8 467.2,270.2C470.2,268.5 474.7,266.1 476.2,265.3" stroke="#1a1a1a" stroke-width="1.1" fill="none"/>
</g>
<path d="M238.4,312.5V334.2M228,325.5V340.1" stroke="#1c1c1c" stroke-width="1.15" fill="none"/>
<path d="M365.9,122.4C365.5,124.6 364,131.1 363.4,135.5C362.8,139.9 362.2,144.4 362.3,148.7C362.4,152.9 363.2,157.6 364,161C364.8,164.4 365.9,166.5 366.8,169.4C367.7,172.3 368.8,175.3 369.6,178.7C370.4,182.1 371.3,186.2 371.8,190C372.3,193.8 372.6,197.8 372.4,201.2C372.2,204.6 371.4,207.8 370.5,210.6C369.6,213.4 368.7,215.7 366.8,218C364.9,220.3 362.1,222.7 359.3,224.6C356.5,226.5 353.3,227.7 349.9,229.3C346.5,230.9 342.4,232.6 338.7,234C335,235.4 331.2,236.3 327.5,237.7C323.8,239.1 319.6,240.7 316.2,242.4C312.8,244.1 309.7,246.1 306.9,248C304.1,249.9 300.6,252.7 299.4,253.6" stroke="#141414" stroke-width="2.2" fill="none" stroke-linecap="round"/>
<path d="M384,73.4C383.1,75 380.1,79.7 378.5,83C376.9,86.3 375.8,89 374.3,93C372.8,97 371,102.1 369.6,107C368.2,111.9 366.5,119.8 365.9,122.4" stroke="#1a1a1a" stroke-width="1.3" fill="none"/>
<path d="M299.4,253.6C298.2,254.9 294.7,258.4 292,261.5C289.3,264.6 285.8,269.4 283,272.5C280.2,275.6 277.8,277.8 275,280C272.2,282.2 268.7,284.2 266,286C263.3,287.8 259.9,290.2 258.7,291" stroke="#1a1a1a" stroke-width="1.4" fill="none"/>
</g>
<g clip-path="url(#cPan)"><rect x="216" y="150" width="4.2" height="210" fill="#ccd5ce"/><rect x="419" y="40" width="4" height="200" fill="#b9b9b9" opacity="0.85"/></g>
<!-- touch screen -->
<path d="M369.5,330.1Q369.5,320.1 378.2,315.1L610.8,182.3Q623,175.4 623,189.4L623,386.7Q623,387.7 622.1,388.2L384.3,523.6Q369.5,532 369.5,515Z" fill="url(#gEdge)"/>
<g clip-path="url(#cScr)"><path d="M375.7,331.6Q375.7,323.6 382.6,319.6L613.5,185.9Q623,180.4 623,191.4L623,399Q623,400 622.1,400.5L376.6,544.5Q375.7,545 375.7,544Z" fill="url(#gFace)"/></g>
<!-- arrows from touch point -->
<path d="M501,338.8Q459,207.8 420.7,75.2L410.2,79.3 417.7,58 436.7,67.7L428.2,72.2Q466.5,204.8 501,338.8Z" fill="url(#gR1)"/>
<path d="M501,338.8L381,241.2L367.2,244.9L366.7,221.7L395.2,229.2L388.4,235.2Z" fill="url(#gR2)"/>
<path d="M503,338.8L492,337.7L481,336.7L470,335.8L459.1,334.9L448.2,334.1L437.4,333.4L426.6,332.8L415.9,332.3L405.2,331.9L394.6,331.6L384,331.3L373.5,331.2L363,331.1L352.5,331.1L342.1,331.2L331.8,331.4L321.5,331.7L311.2,332.1L301,332.6L290.8,333.1L280.6,333.8L270.6,334.6L260.5,335.4L250.5,336.3L255.6,331.4L226.8,344.3L243.8,354.7L251.5,344.7L261.4,343.3L271.3,342L281.3,340.8L291.3,339.7L301.4,338.7L311.6,337.8L321.7,337L332,336.4L342.3,335.8L352.6,335.3L363.1,334.9L373.5,334.6L384,334.4L394.6,334.3L405.2,334.3L415.9,334.4L426.6,334.7L437.3,335L448.2,335.4L459,336L469.9,336.6L480.9,337.3L491.9,338.2L503,339.2Z" fill="url(#gR3)"/>
<!-- hand -->
<circle cx="503" cy="342" r="26" fill="url(#gGlow)"/>
<path d="M501.9,344.3C502.2,343.5 502.3,340.7 503.5,339.5C504.7,338.3 502.9,337.6 509,337.3C515.1,337.1 528.2,337.8 540,338C551.8,338.2 567,338.4 580,338.6C593,338.8 610.8,339.4 618,339.4C625.2,339.4 624.3,340.6 623,338.5C621.7,336.4 614.3,330.6 610,327C605.7,323.4 599.6,319.4 597,317C594.4,314.6 594.3,313.9 594.2,312.5C594.1,311.1 595,309.4 596.5,308.5C598,307.6 600.4,307.2 603,307.2C605.6,307.2 608.2,307.4 612,308.3C615.8,309.2 621.3,310.7 626,312.5C630.7,314.3 634.7,317.1 640,319.3C645.3,321.5 652,323 658,325.8C664,328.6 670,331.8 676,336C682,340.2 688.5,347 694,351C699.5,355 703,357.9 709,360C715,362.1 721.5,362.5 730,363.6C738.5,364.7 750,365.6 760,366.5C770,367.4 783.4,368.2 790,369C796.6,369.8 797.2,369.8 799.5,371C801.8,372.2 803,373.3 803.8,376.5C804.6,379.7 804.4,384.8 804.2,390C804,395.2 803.5,401.7 802.5,408C801.5,414.3 799.7,423.1 798.5,428C797.3,432.9 797,434.9 795.5,437.5C794,440.1 791.8,442.6 789.5,443.6C787.2,444.6 786.9,444.8 782,443.6C777.1,442.4 767.8,439 760,436.4C752.2,433.8 743,430.4 735,427.8C727,425.2 718,422 712,420.6C706,419.2 704.3,418.4 699,419.4C693.7,420.4 686.2,424.9 680,426.5C673.8,428.1 667.8,428.5 662,429C656.2,429.5 651.2,429.5 645,429.3C638.8,429.1 631.3,428.6 625,427.6C618.7,426.7 611.7,425.4 607,423.6C602.3,421.8 599.4,419.4 597,417C594.6,414.6 593.4,411.4 592.8,409C592.2,406.6 595,404 593.5,402.5C592,401 586.7,401.2 584,400C581.3,398.8 579,397.2 577.5,395.5C576,393.8 575.1,391.3 575,389.5C574.9,387.7 575.8,385.8 576.8,384.5C577.8,383.2 582.1,382.2 581,381.5C579.9,380.8 573.3,380.8 570,380C566.7,379.2 563.3,378 561,376.5C558.7,375 556.9,372.7 556,371C555.1,369.3 555.1,367.9 555.5,366.5C555.9,365.1 556.8,363.4 558.5,362.5C560.2,361.6 567.8,361.4 566,360.8C564.2,360.2 554,359.7 548,359C542,358.3 535.7,357.4 530,356.6C524.3,355.8 517.9,354.8 514,354C510.1,353.2 508.4,352.9 506.5,352C504.6,351.1 503.4,349.7 502.6,348.4C501.8,347.1 502,345 501.9,344.3Z" fill="url(#gSkin)"/>
<path d="M503.2,341.5C503.8,339.6 507,338.4 511,338.3C514,338.8 515.4,340.8 515.2,343.8C514.8,347 512.6,350.2 509.4,351.3C505,350.4 502.6,346.3 503.2,341.5Z" fill="#fdd6bc" opacity="0.6"/>
<path d="M595.8,309.6C597.5,308.2 601.5,307.8 605.5,308.4C607.5,309.4 608.2,311.2 607.2,312.8C603.5,313.2 598.6,312.6 595.8,311.4Z" fill="#fdd9c0" opacity="0.9"/>
<!-- axes -->
<path d="M154.5,457.4V324" stroke="#2f3130" stroke-width="2.5" fill="none"/>
<path d="M154.5,313.8L162.2,325.8H146.8Z" fill="#2f3130"/>
<path d="M146.8,449.3L258,387" stroke="#2f3130" stroke-width="2.5" fill="none"/>
<path d="M267.8,381.8L252.8,378.6L263.2,393Z" fill="#2f3130"/>
<path d="M190.5,365.5V367.3M190.5,371.6V377M190.5,387.6V391.4M190.5,397V403.2M190.5,408.8V414M190.5,420.5V425.1M190.5,432.9V434.7" stroke="#2f3130" stroke-width="2.4" fill="none"/>
<path d="M147.4,404.2L148.8,403.4M155.2,400.1L159.4,397.8M164.4,395.1L170.3,391.9M174.5,389.5L179.6,386.8M182.9,385L186.6,383M193.9,377.9L196.6,376.4M201.9,373.6L203.3,372.8" stroke="#2f3130" stroke-width="2.4" fill="none"/>
<path d="M193.6,385.2L329,493.2L333.7,481.4L342,514.8L306.9,511.3L318,505.8Z" fill="url(#gF)"/>
<circle cx="190.5" cy="381.2" r="6.2" fill="url(#gDot)"/>
<!-- labels -->
<g filter="url(#fT)">
<text x="93.5" y="23.4" text-anchor="middle" textLength="113" lengthAdjust="spacingAndGlyphs" font-size="14.6" fill="#5b625e">Image processing</text>
<text x="92.8" y="40.8" text-anchor="middle" textLength="64.5" lengthAdjust="spacingAndGlyphs" font-size="14.6" fill="#5b625e">controller</text>
<text x="327.3" y="36.4" text-anchor="middle" textLength="149" lengthAdjust="spacingAndGlyphs" font-size="14.6" fill="#5b625e">Continuous re-imaging</text>
<text x="327.2" y="54.6" text-anchor="middle" textLength="98" lengthAdjust="spacingAndGlyphs" font-size="14.6" fill="#5b625e">of touch profile</text>
<text x="530.6" y="34.6" text-anchor="middle" textLength="126.4" lengthAdjust="spacingAndGlyphs" font-size="14.6" fill="#5b625e">Image of changes in</text>
<text x="530.4" y="52.4" text-anchor="middle" textLength="161.3" lengthAdjust="spacingAndGlyphs" font-size="14.6" fill="#5b625e">electrostatic field caused</text>
<text x="530.6" y="70.3" text-anchor="middle" textLength="55.9" lengthAdjust="spacingAndGlyphs" font-size="14.6" fill="#5b625e">by touch</text>
<text x="664.2" y="93.9" text-anchor="middle" textLength="83.7" lengthAdjust="spacingAndGlyphs" font-size="14.6" fill="#5b625e">Touch screen</text>
<text x="663.6" y="111.3" text-anchor="middle" textLength="53" lengthAdjust="spacingAndGlyphs" font-size="14.6" fill="#5b625e">(Sensor)</text>
<text x="69.3" y="404.6" text-anchor="middle" textLength="124.9" lengthAdjust="spacingAndGlyphs" font-size="14.6" fill="#5b625e">Controller resolves</text>
<text x="69.2" y="422.2" text-anchor="middle" textLength="99" lengthAdjust="spacingAndGlyphs" font-size="14.6" fill="#5b625e">touch profile to</text>
<text x="69.5" y="440.2" text-anchor="middle" textLength="116.9" lengthAdjust="spacingAndGlyphs" font-size="14.6" fill="#5b625e">actual touch point</text>
<text x="219.5" y="506.4" text-anchor="middle" textLength="159.6" lengthAdjust="spacingAndGlyphs" font-size="14.6" fill="#5b625e">Coordinates feedback to</text>
<text x="219.4" y="523.9" text-anchor="middle" textLength="111.6" lengthAdjust="spacingAndGlyphs" font-size="14.6" fill="#5b625e">operating system</text>
<text x="278.8" y="381.4" text-anchor="middle" font-size="16" fill="#5b625e">x</text>
</g>
<g stroke="#4d524f" stroke-width="1.1" fill="none">
<path d="M129.6,32.5L147,47.1"/>
<path d="M241.4,107L318.2,62"/>
<path d="M495.3,62.5L376.5,121.2"/>
<path d="M620,93.5H604.6L602,231"/>
</g>
</svg>
</body></html>
